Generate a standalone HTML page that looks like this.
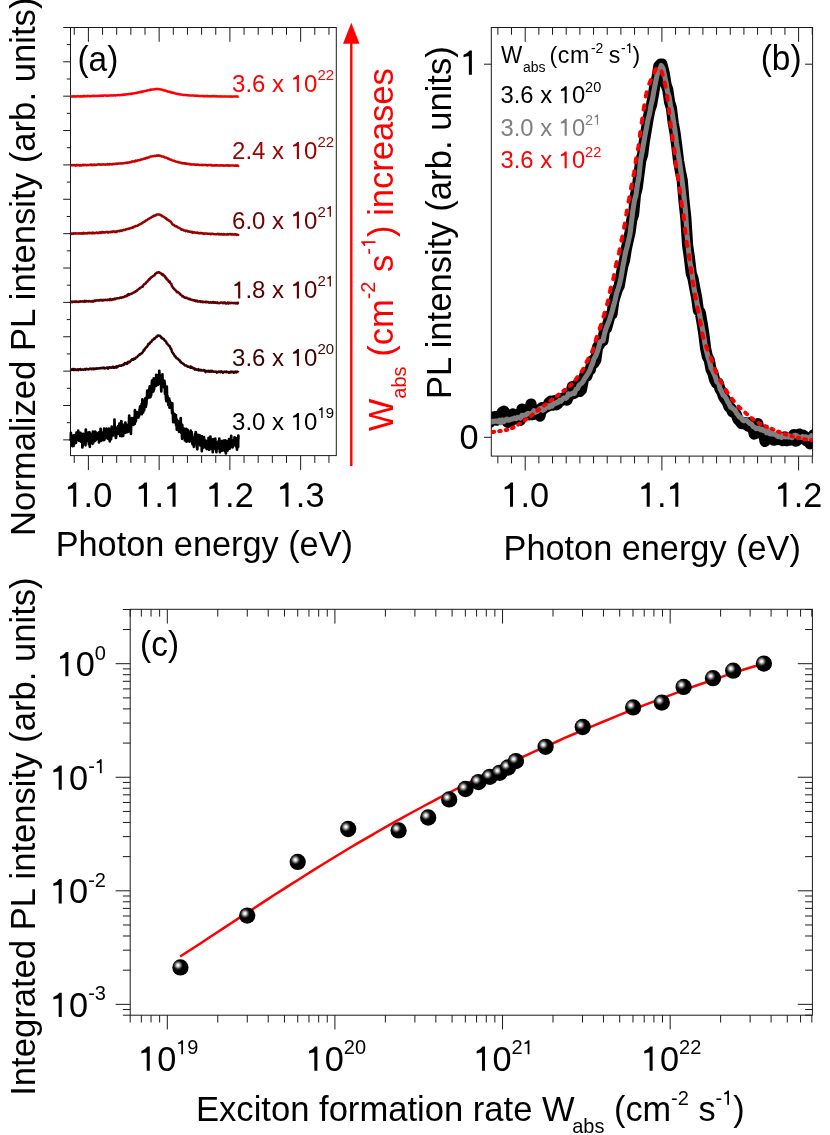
<!DOCTYPE html>
<html><head><meta charset="utf-8"><title>PL figure</title>
<style>
html,body{margin:0;padding:0;background:#fff;}
svg{display:block;will-change:transform;font-family:"Liberation Sans", sans-serif;}
text{font-family:"Liberation Sans", sans-serif;white-space:pre;}
</style></head><body>
<svg width="830" height="1135" viewBox="0 0 830 1135">
<rect x="0" y="0" width="830" height="1135" fill="#ffffff"/>
<rect x="70.5" y="27.5" width="265.80" height="428.10" fill="none" stroke="#1a1a1a" stroke-width="1.0"/>
<line x1="74.25" y1="27.50" x2="74.25" y2="34.80" stroke="#1a1a1a" stroke-width="1.0" />
<line x1="74.25" y1="455.60" x2="74.25" y2="462.90" stroke="#1a1a1a" stroke-width="1.0" />
<line x1="88.40" y1="27.50" x2="88.40" y2="41.80" stroke="#1a1a1a" stroke-width="1.0" />
<line x1="88.40" y1="455.60" x2="88.40" y2="470.10" stroke="#1a1a1a" stroke-width="1.0" />
<line x1="102.55" y1="27.50" x2="102.55" y2="34.80" stroke="#1a1a1a" stroke-width="1.0" />
<line x1="102.55" y1="455.60" x2="102.55" y2="462.90" stroke="#1a1a1a" stroke-width="1.0" />
<line x1="116.70" y1="27.50" x2="116.70" y2="34.80" stroke="#1a1a1a" stroke-width="1.0" />
<line x1="116.70" y1="455.60" x2="116.70" y2="462.90" stroke="#1a1a1a" stroke-width="1.0" />
<line x1="130.85" y1="27.50" x2="130.85" y2="34.80" stroke="#1a1a1a" stroke-width="1.0" />
<line x1="130.85" y1="455.60" x2="130.85" y2="462.90" stroke="#1a1a1a" stroke-width="1.0" />
<line x1="145.00" y1="27.50" x2="145.00" y2="34.80" stroke="#1a1a1a" stroke-width="1.0" />
<line x1="145.00" y1="455.60" x2="145.00" y2="462.90" stroke="#1a1a1a" stroke-width="1.0" />
<line x1="159.15" y1="27.50" x2="159.15" y2="41.80" stroke="#1a1a1a" stroke-width="1.0" />
<line x1="159.15" y1="455.60" x2="159.15" y2="470.10" stroke="#1a1a1a" stroke-width="1.0" />
<line x1="173.30" y1="27.50" x2="173.30" y2="34.80" stroke="#1a1a1a" stroke-width="1.0" />
<line x1="173.30" y1="455.60" x2="173.30" y2="462.90" stroke="#1a1a1a" stroke-width="1.0" />
<line x1="187.45" y1="27.50" x2="187.45" y2="34.80" stroke="#1a1a1a" stroke-width="1.0" />
<line x1="187.45" y1="455.60" x2="187.45" y2="462.90" stroke="#1a1a1a" stroke-width="1.0" />
<line x1="201.60" y1="27.50" x2="201.60" y2="34.80" stroke="#1a1a1a" stroke-width="1.0" />
<line x1="201.60" y1="455.60" x2="201.60" y2="462.90" stroke="#1a1a1a" stroke-width="1.0" />
<line x1="215.75" y1="27.50" x2="215.75" y2="34.80" stroke="#1a1a1a" stroke-width="1.0" />
<line x1="215.75" y1="455.60" x2="215.75" y2="462.90" stroke="#1a1a1a" stroke-width="1.0" />
<line x1="229.90" y1="27.50" x2="229.90" y2="41.80" stroke="#1a1a1a" stroke-width="1.0" />
<line x1="229.90" y1="455.60" x2="229.90" y2="470.10" stroke="#1a1a1a" stroke-width="1.0" />
<line x1="244.05" y1="27.50" x2="244.05" y2="34.80" stroke="#1a1a1a" stroke-width="1.0" />
<line x1="244.05" y1="455.60" x2="244.05" y2="462.90" stroke="#1a1a1a" stroke-width="1.0" />
<line x1="258.20" y1="27.50" x2="258.20" y2="34.80" stroke="#1a1a1a" stroke-width="1.0" />
<line x1="258.20" y1="455.60" x2="258.20" y2="462.90" stroke="#1a1a1a" stroke-width="1.0" />
<line x1="272.35" y1="27.50" x2="272.35" y2="34.80" stroke="#1a1a1a" stroke-width="1.0" />
<line x1="272.35" y1="455.60" x2="272.35" y2="462.90" stroke="#1a1a1a" stroke-width="1.0" />
<line x1="286.50" y1="27.50" x2="286.50" y2="34.80" stroke="#1a1a1a" stroke-width="1.0" />
<line x1="286.50" y1="455.60" x2="286.50" y2="462.90" stroke="#1a1a1a" stroke-width="1.0" />
<line x1="300.65" y1="27.50" x2="300.65" y2="41.80" stroke="#1a1a1a" stroke-width="1.0" />
<line x1="300.65" y1="455.60" x2="300.65" y2="470.10" stroke="#1a1a1a" stroke-width="1.0" />
<line x1="314.80" y1="27.50" x2="314.80" y2="34.80" stroke="#1a1a1a" stroke-width="1.0" />
<line x1="314.80" y1="455.60" x2="314.80" y2="462.90" stroke="#1a1a1a" stroke-width="1.0" />
<line x1="328.95" y1="27.50" x2="328.95" y2="34.80" stroke="#1a1a1a" stroke-width="1.0" />
<line x1="328.95" y1="455.60" x2="328.95" y2="462.90" stroke="#1a1a1a" stroke-width="1.0" />
<line x1="63.20" y1="61.80" x2="70.50" y2="61.80" stroke="#1a1a1a" stroke-width="1.0" />
<line x1="66.80" y1="44.62" x2="70.50" y2="44.62" stroke="#1a1a1a" stroke-width="1.0" />
<line x1="63.20" y1="96.17" x2="70.50" y2="96.17" stroke="#1a1a1a" stroke-width="1.0" />
<line x1="66.80" y1="78.99" x2="70.50" y2="78.99" stroke="#1a1a1a" stroke-width="1.0" />
<line x1="63.20" y1="130.54" x2="70.50" y2="130.54" stroke="#1a1a1a" stroke-width="1.0" />
<line x1="66.80" y1="113.36" x2="70.50" y2="113.36" stroke="#1a1a1a" stroke-width="1.0" />
<line x1="63.20" y1="164.91" x2="70.50" y2="164.91" stroke="#1a1a1a" stroke-width="1.0" />
<line x1="66.80" y1="147.73" x2="70.50" y2="147.73" stroke="#1a1a1a" stroke-width="1.0" />
<line x1="63.20" y1="199.28" x2="70.50" y2="199.28" stroke="#1a1a1a" stroke-width="1.0" />
<line x1="66.80" y1="182.10" x2="70.50" y2="182.10" stroke="#1a1a1a" stroke-width="1.0" />
<line x1="63.20" y1="233.65" x2="70.50" y2="233.65" stroke="#1a1a1a" stroke-width="1.0" />
<line x1="66.80" y1="216.47" x2="70.50" y2="216.47" stroke="#1a1a1a" stroke-width="1.0" />
<line x1="63.20" y1="268.02" x2="70.50" y2="268.02" stroke="#1a1a1a" stroke-width="1.0" />
<line x1="66.80" y1="250.84" x2="70.50" y2="250.84" stroke="#1a1a1a" stroke-width="1.0" />
<line x1="63.20" y1="302.39" x2="70.50" y2="302.39" stroke="#1a1a1a" stroke-width="1.0" />
<line x1="66.80" y1="285.21" x2="70.50" y2="285.21" stroke="#1a1a1a" stroke-width="1.0" />
<line x1="63.20" y1="336.76" x2="70.50" y2="336.76" stroke="#1a1a1a" stroke-width="1.0" />
<line x1="66.80" y1="319.58" x2="70.50" y2="319.58" stroke="#1a1a1a" stroke-width="1.0" />
<line x1="63.20" y1="371.13" x2="70.50" y2="371.13" stroke="#1a1a1a" stroke-width="1.0" />
<line x1="66.80" y1="353.95" x2="70.50" y2="353.95" stroke="#1a1a1a" stroke-width="1.0" />
<line x1="63.20" y1="405.50" x2="70.50" y2="405.50" stroke="#1a1a1a" stroke-width="1.0" />
<line x1="66.80" y1="388.32" x2="70.50" y2="388.32" stroke="#1a1a1a" stroke-width="1.0" />
<line x1="63.20" y1="439.87" x2="70.50" y2="439.87" stroke="#1a1a1a" stroke-width="1.0" />
<line x1="66.80" y1="422.69" x2="70.50" y2="422.69" stroke="#1a1a1a" stroke-width="1.0" />
<line x1="63.20" y1="27.50" x2="70.50" y2="27.50" stroke="#1a1a1a" stroke-width="1.0" />
<text xml:space="preserve" x="88.40" y="506.80" font-size="34.3" fill="#000" text-anchor="middle" transform="translate(88.40 506.80) scale(1 1.03) translate(-88.40 -506.80)" >  .0</text>
<text xml:space="preserve" x="159.15" y="506.80" font-size="34.3" fill="#000" text-anchor="middle" transform="translate(159.15 506.80) scale(1 1.03) translate(-159.15 -506.80)" >  .  </text>
<text xml:space="preserve" x="229.90" y="506.80" font-size="34.3" fill="#000" text-anchor="middle" transform="translate(229.90 506.80) scale(1 1.03) translate(-229.90 -506.80)" >  .2</text>
<text xml:space="preserve" x="300.65" y="506.80" font-size="34.3" fill="#000" text-anchor="middle" transform="translate(300.65 506.80) scale(1 1.03) translate(-300.65 -506.80)" >  .3</text>
<text xml:space="preserve" x="204.30" y="555.70" font-size="34.3" fill="#000" text-anchor="middle" transform="translate(204.30 555.70) scale(1 1.03) translate(-204.30 -555.70)" >Photon energy (eV)</text>
<text xml:space="preserve" x="34.70" y="266.80" font-size="34.7" fill="#000" text-anchor="middle" transform="rotate(-90 34.70 266.80) translate(34.70 266.80) scale(1 1.03) translate(-34.70 -266.80)" >Normalized PL intensity (arb. units)</text>
<text xml:space="preserve" x="77.50" y="71.30" font-size="33.4" fill="#000" text-anchor="start" transform="translate(77.50 71.30) scale(1 1.03) translate(-77.50 -71.30)" >(a)</text>
<path d="M70.7,96.6 L71.2,96.4 L71.7,96.4 L72.2,96.4 L72.8,96.3 L73.3,96.4 L73.8,96.4 L74.3,96.2 L74.8,96.5 L75.3,96.4 L75.8,96.3 L76.3,96.4 L76.8,96.4 L77.4,96.3 L77.9,96.3 L78.4,96.2 L78.9,96.4 L79.4,96.4 L79.9,96.4 L80.4,96.2 L80.9,96.5 L81.4,96.3 L81.9,96.3 L82.5,96.5 L83.0,96.3 L83.5,96.1 L84.0,96.2 L84.5,96.0 L85.0,96.4 L85.5,96.2 L86.0,96.1 L86.5,96.3 L87.1,96.0 L87.6,96.2 L88.1,96.0 L88.6,96.1 L89.1,96.0 L89.6,96.3 L90.1,96.3 L90.6,96.1 L91.1,96.2 L91.7,96.0 L92.2,96.1 L92.7,96.0 L93.2,95.8 L93.7,95.8 L94.2,96.0 L94.7,96.2 L95.2,96.0 L95.7,95.9 L96.2,96.1 L96.8,95.9 L97.3,95.9 L97.8,95.9 L98.3,95.9 L98.8,95.8 L99.3,95.7 L99.8,95.9 L100.3,95.8 L100.8,95.9 L101.4,95.7 L101.9,95.6 L102.4,95.7 L102.9,95.9 L103.4,95.7 L103.9,95.6 L104.4,95.6 L104.9,95.6 L105.4,95.6 L106.0,95.5 L106.5,95.8 L107.0,95.6 L107.5,95.6 L108.0,95.7 L108.5,95.7 L109.0,95.5 L109.5,95.6 L110.0,95.6 L110.5,95.5 L111.1,95.3 L111.6,95.5 L112.1,95.5 L112.6,95.5 L113.1,95.3 L113.6,95.4 L114.1,95.3 L114.6,95.3 L115.1,95.4 L115.7,95.4 L116.2,95.3 L116.7,95.3 L117.2,95.3 L117.7,95.2 L118.2,95.1 L118.7,95.1 L119.2,95.1 L119.7,95.3 L120.3,95.1 L120.8,94.9 L121.3,94.9 L121.8,94.8 L122.3,94.9 L122.8,94.8 L123.3,94.6 L123.8,94.8 L124.3,94.6 L124.9,94.7 L125.4,94.5 L125.9,94.6 L126.4,94.3 L126.9,94.3 L127.4,94.3 L127.9,94.3 L128.4,94.2 L128.9,94.0 L129.4,94.0 L130.0,94.0 L130.5,93.8 L131.0,93.7 L131.5,93.9 L132.0,93.6 L132.5,93.5 L133.0,93.5 L133.5,93.4 L134.0,93.3 L134.6,93.3 L135.1,93.2 L135.6,93.1 L136.1,93.0 L136.6,92.9 L137.1,92.7 L137.6,92.6 L138.1,92.5 L138.6,92.5 L139.2,92.3 L139.7,92.1 L140.2,92.2 L140.7,91.9 L141.2,91.7 L141.7,91.9 L142.2,91.6 L142.7,91.7 L143.2,91.5 L143.7,91.3 L144.3,91.2 L144.8,91.1 L145.3,91.0 L145.8,90.9 L146.3,90.8 L146.8,90.6 L147.3,90.6 L147.8,90.3 L148.3,90.3 L148.9,90.2 L149.4,90.1 L149.9,90.1 L150.4,89.6 L150.9,89.7 L151.4,89.7 L151.9,89.6 L152.4,89.4 L152.9,89.4 L153.5,89.5 L154.0,89.2 L154.5,89.3 L155.0,89.3 L155.5,89.1 L156.0,89.2 L156.5,89.0 L157.0,89.0 L157.5,89.0 L158.0,89.1 L158.6,89.1 L159.1,89.3 L159.6,89.2 L160.1,89.3 L160.6,89.5 L161.1,89.6 L161.6,89.5 L162.1,89.8 L162.6,89.9 L163.2,90.1 L163.7,90.3 L164.2,90.5 L164.7,90.5 L165.2,90.5 L165.7,90.6 L166.2,91.1 L166.7,91.1 L167.2,91.4 L167.8,91.4 L168.3,91.4 L168.8,91.8 L169.3,91.7 L169.8,91.7 L170.3,92.3 L170.8,92.0 L171.3,92.5 L171.8,92.7 L172.3,92.7 L172.9,92.6 L173.4,93.0 L173.9,92.9 L174.4,93.1 L174.9,93.3 L175.4,93.5 L175.9,93.6 L176.4,93.8 L176.9,93.7 L177.5,93.9 L178.0,93.9 L178.5,94.1 L179.0,94.3 L179.5,94.3 L180.0,94.5 L180.5,94.4 L181.0,94.5 L181.5,94.6 L182.1,94.7 L182.6,94.8 L183.1,94.8 L183.6,95.0 L184.1,94.9 L184.6,94.9 L185.1,94.9 L185.6,95.0 L186.1,95.2 L186.6,95.1 L187.2,95.2 L187.7,95.3 L188.2,95.3 L188.7,95.3 L189.2,95.5 L189.7,95.4 L190.2,95.5 L190.7,95.6 L191.2,95.6 L191.8,95.5 L192.3,95.5 L192.8,95.6 L193.3,95.6 L193.8,95.5 L194.3,95.8 L194.8,95.7 L195.3,95.8 L195.8,95.6 L196.4,95.9 L196.9,95.7 L197.4,95.8 L197.9,95.7 L198.4,95.9 L198.9,95.9 L199.4,95.9 L199.9,96.0 L200.4,96.0 L200.9,96.1 L201.5,95.9 L202.0,95.9 L202.5,96.0 L203.0,96.1 L203.5,96.2 L204.0,96.2 L204.5,95.9 L205.0,96.1 L205.5,96.3 L206.1,96.1 L206.6,96.1 L207.1,96.2 L207.6,96.1 L208.1,96.3 L208.6,96.2 L209.1,96.4 L209.6,96.3 L210.1,96.2 L210.7,96.3 L211.2,96.4 L211.7,96.2 L212.2,96.2 L212.7,96.1 L213.2,96.4 L213.7,96.2 L214.2,96.1 L214.7,96.1 L215.3,96.3 L215.8,96.4 L216.3,96.3 L216.8,96.4 L217.3,96.2 L217.8,96.2 L218.3,96.5 L218.8,96.4 L219.3,96.4 L219.8,96.5 L220.4,96.3 L220.9,96.4 L221.4,96.5 L221.9,96.6 L222.4,96.4 L222.9,96.6 L223.4,96.4 L223.9,96.5 L224.4,96.4 L225.0,96.3 L225.5,96.5 L226.0,96.6 L226.5,96.5 L227.0,96.5 L227.5,96.6 L228.0,96.4 L228.5,96.4 L229.0,96.4 L229.6,96.4 L230.1,96.7 L230.6,96.6 L231.1,96.4 L231.6,96.5 L232.1,96.8 L232.6,96.5 L233.1,96.5 L233.6,96.6 L234.1,96.6 L234.7,96.6 L235.2,96.5 L235.7,96.4 L236.2,96.6 L236.7,96.6 L237.2,96.4 L237.7,96.7 L238.2,96.6 L238.7,96.5" fill="none" stroke="#ff0000" stroke-width="2.5" stroke-linejoin="round" stroke-linecap="butt" />
<path d="M70.7,165.3 L71.2,165.3 L71.7,165.2 L72.2,165.1 L72.8,165.3 L73.3,165.1 L73.8,165.3 L74.3,165.1 L74.8,165.3 L75.3,165.3 L75.8,165.6 L76.3,165.1 L76.8,165.0 L77.4,165.2 L77.9,165.1 L78.4,165.2 L78.9,165.3 L79.4,165.4 L79.9,165.5 L80.4,165.1 L80.9,165.6 L81.4,165.5 L81.9,165.2 L82.5,164.8 L83.0,165.2 L83.5,165.2 L84.0,164.8 L84.5,165.1 L85.0,165.1 L85.5,165.0 L86.0,165.2 L86.5,165.2 L87.1,165.0 L87.6,165.1 L88.1,164.9 L88.6,164.9 L89.1,165.0 L89.6,165.1 L90.1,164.9 L90.6,164.6 L91.1,165.0 L91.7,164.6 L92.2,164.9 L92.7,165.2 L93.2,164.8 L93.7,164.6 L94.2,164.6 L94.7,165.0 L95.2,164.8 L95.7,164.8 L96.2,164.9 L96.8,164.7 L97.3,164.7 L97.8,164.5 L98.3,164.2 L98.8,164.4 L99.3,164.6 L99.8,164.6 L100.3,164.7 L100.8,164.6 L101.4,164.6 L101.9,164.7 L102.4,164.4 L102.9,164.5 L103.4,164.2 L103.9,164.6 L104.4,164.5 L104.9,164.5 L105.4,164.7 L106.0,164.6 L106.5,164.4 L107.0,164.5 L107.5,164.1 L108.0,164.4 L108.5,164.3 L109.0,164.0 L109.5,164.5 L110.0,164.1 L110.5,164.3 L111.1,164.1 L111.6,164.3 L112.1,164.4 L112.6,164.0 L113.1,163.9 L113.6,164.1 L114.1,164.2 L114.6,164.0 L115.1,163.9 L115.7,164.0 L116.2,163.5 L116.7,163.8 L117.2,163.6 L117.7,163.9 L118.2,163.7 L118.7,163.6 L119.2,163.6 L119.7,163.4 L120.3,163.6 L120.8,163.4 L121.3,163.4 L121.8,163.3 L122.3,163.5 L122.8,163.3 L123.3,163.3 L123.8,163.3 L124.3,163.0 L124.9,163.1 L125.4,163.0 L125.9,162.9 L126.4,162.7 L126.9,162.6 L127.4,162.8 L127.9,162.9 L128.4,162.4 L128.9,162.5 L129.4,162.3 L130.0,162.4 L130.5,162.2 L131.0,162.2 L131.5,161.5 L132.0,161.7 L132.5,161.6 L133.0,161.6 L133.5,161.4 L134.0,161.3 L134.6,161.4 L135.1,161.5 L135.6,160.6 L136.1,160.9 L136.6,160.9 L137.1,160.7 L137.6,160.6 L138.1,160.3 L138.6,160.2 L139.2,160.3 L139.7,160.3 L140.2,159.9 L140.7,159.6 L141.2,159.6 L141.7,159.5 L142.2,159.4 L142.7,159.2 L143.2,159.0 L143.7,158.9 L144.3,158.6 L144.8,158.7 L145.3,158.6 L145.8,158.1 L146.3,158.2 L146.8,157.8 L147.3,158.0 L147.8,157.7 L148.3,157.4 L148.9,157.4 L149.4,157.0 L149.9,156.8 L150.4,156.6 L150.9,156.5 L151.4,156.4 L151.9,156.4 L152.4,156.2 L152.9,156.3 L153.5,156.3 L154.0,156.0 L154.5,155.7 L155.0,156.0 L155.5,156.0 L156.0,155.7 L156.5,155.4 L157.0,155.7 L157.5,155.8 L158.0,155.3 L158.6,155.7 L159.1,155.6 L159.6,155.6 L160.1,155.9 L160.6,155.7 L161.1,156.1 L161.6,156.4 L162.1,156.4 L162.6,156.4 L163.2,156.5 L163.7,156.8 L164.2,156.9 L164.7,157.6 L165.2,157.5 L165.7,157.5 L166.2,157.7 L166.7,158.0 L167.2,158.2 L167.8,158.3 L168.3,158.9 L168.8,158.7 L169.3,158.9 L169.8,159.3 L170.3,159.6 L170.8,159.8 L171.3,159.8 L171.8,160.2 L172.3,160.4 L172.9,160.6 L173.4,160.7 L173.9,160.7 L174.4,160.9 L174.9,161.3 L175.4,161.2 L175.9,161.8 L176.4,161.7 L176.9,161.7 L177.5,161.9 L178.0,162.0 L178.5,162.2 L179.0,162.5 L179.5,162.3 L180.0,162.4 L180.5,162.8 L181.0,162.9 L181.5,163.0 L182.1,163.2 L182.6,163.1 L183.1,163.4 L183.6,163.2 L184.1,163.4 L184.6,163.3 L185.1,163.3 L185.6,163.7 L186.1,163.8 L186.6,163.4 L187.2,163.6 L187.7,163.9 L188.2,164.1 L188.7,163.9 L189.2,164.0 L189.7,163.8 L190.2,164.5 L190.7,164.2 L191.2,164.4 L191.8,164.4 L192.3,164.4 L192.8,164.4 L193.3,164.3 L193.8,164.5 L194.3,164.5 L194.8,164.7 L195.3,164.4 L195.8,164.5 L196.4,164.7 L196.9,164.8 L197.4,164.7 L197.9,164.6 L198.4,164.7 L198.9,164.7 L199.4,165.1 L199.9,164.9 L200.4,165.0 L200.9,164.9 L201.5,164.8 L202.0,165.1 L202.5,165.2 L203.0,165.0 L203.5,164.9 L204.0,165.1 L204.5,164.9 L205.0,165.1 L205.5,164.9 L206.1,164.9 L206.6,165.2 L207.1,165.2 L207.6,165.4 L208.1,165.1 L208.6,165.1 L209.1,165.0 L209.6,164.9 L210.1,164.9 L210.7,165.3 L211.2,165.0 L211.7,165.4 L212.2,165.5 L212.7,165.2 L213.2,165.5 L213.7,165.3 L214.2,165.5 L214.7,165.3 L215.3,165.5 L215.8,165.2 L216.3,165.4 L216.8,165.3 L217.3,165.3 L217.8,165.4 L218.3,165.4 L218.8,165.4 L219.3,165.5 L219.8,165.5 L220.4,165.2 L220.9,165.5 L221.4,165.5 L221.9,165.3 L222.4,165.5 L222.9,165.2 L223.4,165.7 L223.9,165.4 L224.4,165.4 L225.0,165.7 L225.5,165.4 L226.0,165.6 L226.5,165.3 L227.0,165.4 L227.5,165.3 L228.0,165.5 L228.5,165.7 L229.0,165.5 L229.6,165.7 L230.1,165.4 L230.6,165.4 L231.1,165.5 L231.6,165.6 L232.1,165.6 L232.6,165.5 L233.1,165.6 L233.6,165.5 L234.1,165.6 L234.7,165.8 L235.2,165.5 L235.7,165.6 L236.2,165.8 L236.7,165.6 L237.2,165.7 L237.7,165.5 L238.2,165.9 L238.7,165.2" fill="none" stroke="#cc0000" stroke-width="2.5" stroke-linejoin="round" stroke-linecap="butt" />
<path d="M70.7,233.4 L71.2,233.4 L71.7,234.0 L72.2,233.7 L72.8,233.6 L73.3,233.3 L73.8,233.7 L74.3,233.6 L74.8,233.4 L75.3,233.3 L75.8,233.3 L76.3,233.6 L76.8,233.6 L77.4,233.6 L77.9,233.5 L78.4,233.2 L78.9,233.5 L79.4,233.3 L79.9,233.5 L80.4,233.6 L80.9,233.3 L81.4,233.2 L81.9,233.7 L82.5,233.5 L83.0,233.3 L83.5,232.7 L84.0,233.4 L84.5,233.5 L85.0,233.6 L85.5,233.2 L86.0,233.2 L86.5,233.2 L87.1,233.5 L87.6,233.0 L88.1,233.2 L88.6,233.0 L89.1,233.2 L89.6,232.8 L90.1,233.2 L90.6,233.0 L91.1,233.0 L91.7,233.2 L92.2,233.3 L92.7,232.6 L93.2,233.2 L93.7,233.1 L94.2,232.9 L94.7,233.2 L95.2,232.9 L95.7,233.1 L96.2,232.7 L96.8,232.6 L97.3,233.0 L97.8,233.2 L98.3,232.8 L98.8,232.9 L99.3,232.5 L99.8,232.3 L100.3,232.6 L100.8,232.9 L101.4,232.1 L101.9,232.4 L102.4,232.1 L102.9,232.5 L103.4,232.6 L103.9,232.1 L104.4,232.3 L104.9,232.6 L105.4,232.3 L106.0,232.0 L106.5,232.0 L107.0,231.8 L107.5,232.4 L108.0,232.0 L108.5,232.4 L109.0,232.3 L109.5,231.9 L110.0,231.9 L110.5,232.2 L111.1,232.0 L111.6,232.0 L112.1,231.5 L112.6,232.0 L113.1,231.6 L113.6,231.3 L114.1,231.6 L114.6,231.7 L115.1,232.1 L115.7,231.5 L116.2,231.2 L116.7,231.9 L117.2,231.4 L117.7,231.2 L118.2,231.0 L118.7,230.9 L119.2,231.3 L119.7,230.8 L120.3,230.7 L120.8,230.6 L121.3,231.0 L121.8,230.4 L122.3,230.6 L122.8,230.4 L123.3,230.2 L123.8,229.8 L124.3,230.0 L124.9,230.1 L125.4,229.6 L125.9,229.3 L126.4,229.1 L126.9,229.3 L127.4,229.0 L127.9,228.9 L128.4,228.8 L128.9,228.4 L129.4,228.7 L130.0,228.4 L130.5,228.2 L131.0,228.1 L131.5,228.0 L132.0,227.7 L132.5,227.3 L133.0,227.6 L133.5,227.1 L134.0,226.8 L134.6,226.4 L135.1,226.5 L135.6,226.1 L136.1,226.0 L136.6,226.0 L137.1,225.7 L137.6,225.7 L138.1,225.3 L138.6,224.9 L139.2,224.6 L139.7,224.3 L140.2,224.3 L140.7,223.8 L141.2,223.5 L141.7,223.5 L142.2,223.1 L142.7,222.7 L143.2,222.1 L143.7,222.1 L144.3,221.8 L144.8,221.5 L145.3,221.0 L145.8,220.6 L146.3,220.5 L146.8,220.2 L147.3,219.8 L147.8,219.4 L148.3,218.9 L148.9,218.8 L149.4,218.5 L149.9,217.9 L150.4,217.9 L150.9,217.6 L151.4,217.3 L151.9,216.9 L152.4,216.7 L152.9,216.3 L153.5,216.5 L154.0,215.6 L154.5,215.8 L155.0,215.6 L155.5,215.6 L156.0,215.1 L156.5,214.7 L157.0,214.4 L157.5,214.4 L158.0,214.6 L158.6,214.5 L159.1,214.5 L159.6,214.5 L160.1,214.8 L160.6,215.3 L161.1,215.1 L161.6,215.6 L162.1,216.3 L162.6,216.3 L163.2,216.4 L163.7,217.0 L164.2,217.0 L164.7,217.4 L165.2,218.1 L165.7,218.5 L166.2,218.2 L166.7,219.1 L167.2,219.7 L167.8,219.5 L168.3,220.1 L168.8,220.7 L169.3,220.6 L169.8,221.2 L170.3,221.5 L170.8,221.5 L171.3,222.5 L171.8,223.2 L172.3,224.1 L172.9,224.7 L173.4,224.8 L173.9,225.0 L174.4,225.5 L174.9,225.8 L175.4,226.3 L175.9,226.1 L176.4,226.4 L176.9,226.5 L177.5,227.3 L178.0,227.4 L178.5,227.5 L179.0,227.8 L179.5,228.1 L180.0,228.3 L180.5,228.7 L181.0,229.0 L181.5,229.7 L182.1,229.7 L182.6,229.6 L183.1,229.9 L183.6,230.4 L184.1,230.4 L184.6,230.5 L185.1,230.8 L185.6,231.1 L186.1,230.6 L186.6,230.8 L187.2,230.7 L187.7,231.4 L188.2,231.3 L188.7,231.3 L189.2,231.4 L189.7,231.8 L190.2,231.7 L190.7,231.7 L191.2,232.2 L191.8,231.8 L192.3,231.9 L192.8,232.8 L193.3,232.2 L193.8,232.3 L194.3,232.3 L194.8,232.5 L195.3,232.8 L195.8,232.8 L196.4,232.9 L196.9,232.7 L197.4,232.5 L197.9,233.0 L198.4,233.3 L198.9,233.3 L199.4,233.0 L199.9,233.3 L200.4,233.1 L200.9,233.2 L201.5,233.0 L202.0,233.2 L202.5,233.4 L203.0,233.3 L203.5,233.6 L204.0,233.9 L204.5,233.8 L205.0,233.5 L205.5,233.4 L206.1,233.5 L206.6,233.4 L207.1,233.7 L207.6,233.8 L208.1,233.8 L208.6,233.8 L209.1,233.8 L209.6,233.8 L210.1,233.7 L210.7,234.2 L211.2,234.1 L211.7,233.7 L212.2,233.7 L212.7,233.8 L213.2,234.0 L213.7,234.2 L214.2,234.2 L214.7,234.2 L215.3,234.3 L215.8,234.3 L216.3,234.2 L216.8,234.2 L217.3,234.1 L217.8,233.7 L218.3,234.1 L218.8,234.5 L219.3,234.0 L219.8,234.0 L220.4,234.4 L220.9,234.2 L221.4,234.1 L221.9,234.6 L222.4,234.4 L222.9,234.4 L223.4,234.1 L223.9,234.4 L224.4,234.3 L225.0,234.4 L225.5,234.5 L226.0,234.5 L226.5,234.3 L227.0,234.4 L227.5,234.0 L228.0,234.4 L228.5,234.5 L229.0,234.2 L229.6,234.1 L230.1,234.3 L230.6,234.1 L231.1,234.4 L231.6,234.4 L232.1,234.1 L232.6,234.3 L233.1,234.6 L233.6,234.6 L234.1,234.6 L234.7,234.3 L235.2,234.3 L235.7,234.3 L236.2,234.5 L236.7,234.9 L237.2,234.7 L237.7,234.7 L238.2,234.7 L238.7,234.0" fill="none" stroke="#990000" stroke-width="2.5" stroke-linejoin="round" stroke-linecap="butt" />
<path d="M70.7,301.7 L71.2,301.6 L71.7,302.1 L72.2,302.2 L72.8,301.6 L73.3,301.7 L73.8,301.9 L74.3,301.6 L74.8,301.5 L75.3,301.5 L75.8,301.9 L76.3,301.4 L76.8,302.0 L77.4,301.7 L77.9,301.9 L78.4,302.1 L78.9,301.4 L79.4,301.4 L79.9,301.7 L80.4,301.3 L80.9,301.3 L81.4,301.5 L81.9,301.6 L82.5,301.2 L83.0,301.4 L83.5,301.6 L84.0,301.8 L84.5,300.9 L85.0,301.8 L85.5,301.6 L86.0,301.0 L86.5,300.9 L87.1,301.4 L87.6,301.2 L88.1,301.3 L88.6,301.5 L89.1,301.1 L89.6,301.2 L90.1,301.3 L90.6,301.4 L91.1,301.6 L91.7,301.5 L92.2,301.1 L92.7,300.9 L93.2,301.6 L93.7,301.1 L94.2,301.0 L94.7,300.5 L95.2,301.0 L95.7,300.5 L96.2,300.6 L96.8,300.3 L97.3,300.5 L97.8,300.6 L98.3,300.2 L98.8,300.3 L99.3,300.5 L99.8,300.1 L100.3,300.1 L100.8,300.2 L101.4,300.0 L101.9,300.5 L102.4,300.0 L102.9,300.5 L103.4,300.5 L103.9,299.9 L104.4,300.2 L104.9,300.0 L105.4,299.8 L106.0,300.0 L106.5,300.0 L107.0,300.2 L107.5,300.2 L108.0,299.6 L108.5,299.7 L109.0,299.9 L109.5,300.1 L110.0,299.0 L110.5,300.0 L111.1,299.5 L111.6,300.0 L112.1,299.4 L112.6,299.2 L113.1,299.4 L113.6,299.6 L114.1,299.2 L114.6,298.5 L115.1,299.3 L115.7,298.5 L116.2,298.6 L116.7,298.5 L117.2,298.2 L117.7,298.3 L118.2,298.2 L118.7,298.2 L119.2,298.2 L119.7,297.9 L120.3,297.5 L120.8,297.7 L121.3,297.9 L121.8,297.7 L122.3,297.3 L122.8,297.3 L123.3,297.2 L123.8,297.1 L124.3,297.0 L124.9,296.2 L125.4,296.0 L125.9,296.3 L126.4,296.1 L126.9,296.0 L127.4,294.7 L127.9,295.1 L128.4,294.1 L128.9,295.0 L129.4,294.5 L130.0,294.3 L130.5,294.0 L131.0,294.1 L131.5,293.4 L132.0,293.6 L132.5,293.2 L133.0,292.9 L133.5,292.7 L134.0,292.4 L134.6,291.7 L135.1,291.9 L135.6,291.5 L136.1,291.0 L136.6,290.9 L137.1,290.6 L137.6,289.7 L138.1,289.6 L138.6,289.2 L139.2,288.6 L139.7,288.5 L140.2,287.8 L140.7,287.5 L141.2,287.3 L141.7,287.0 L142.2,286.6 L142.7,286.8 L143.2,285.4 L143.7,284.9 L144.3,284.0 L144.8,284.0 L145.3,283.7 L145.8,283.3 L146.3,282.3 L146.8,281.8 L147.3,281.7 L147.8,280.7 L148.3,280.4 L148.9,279.4 L149.4,279.6 L149.9,278.9 L150.4,278.3 L150.9,277.5 L151.4,277.3 L151.9,277.0 L152.4,276.6 L152.9,276.2 L153.5,275.8 L154.0,275.5 L154.5,275.5 L155.0,274.1 L155.5,273.8 L156.0,273.3 L156.5,273.2 L157.0,272.5 L157.5,272.8 L158.0,272.5 L158.6,272.3 L159.1,272.2 L159.6,272.6 L160.1,272.9 L160.6,273.3 L161.1,273.5 L161.6,274.3 L162.1,274.1 L162.6,275.2 L163.2,274.4 L163.7,275.5 L164.2,275.8 L164.7,276.8 L165.2,276.6 L165.7,278.0 L166.2,277.7 L166.7,279.4 L167.2,279.5 L167.8,279.9 L168.3,280.6 L168.8,281.7 L169.3,281.8 L169.8,281.5 L170.3,283.1 L170.8,283.6 L171.3,283.8 L171.8,285.9 L172.3,286.5 L172.9,287.5 L173.4,288.2 L173.9,288.6 L174.4,289.5 L174.9,289.5 L175.4,290.3 L175.9,290.6 L176.4,291.2 L176.9,292.2 L177.5,292.0 L178.0,292.1 L178.5,292.7 L179.0,292.9 L179.5,293.5 L180.0,294.0 L180.5,294.5 L181.0,295.0 L181.5,295.3 L182.1,296.0 L182.6,296.5 L183.1,296.3 L183.6,296.7 L184.1,297.0 L184.6,297.6 L185.1,297.8 L185.6,297.5 L186.1,297.9 L186.6,297.7 L187.2,298.0 L187.7,298.5 L188.2,298.8 L188.7,299.1 L189.2,298.9 L189.7,298.7 L190.2,299.4 L190.7,299.4 L191.2,299.7 L191.8,299.8 L192.3,300.0 L192.8,300.2 L193.3,300.3 L193.8,300.1 L194.3,300.6 L194.8,300.3 L195.3,300.6 L195.8,301.2 L196.4,300.9 L196.9,300.6 L197.4,301.4 L197.9,301.3 L198.4,301.5 L198.9,301.3 L199.4,301.4 L199.9,301.3 L200.4,301.2 L200.9,301.9 L201.5,301.5 L202.0,301.5 L202.5,301.5 L203.0,302.3 L203.5,302.0 L204.0,301.7 L204.5,301.9 L205.0,302.1 L205.5,302.2 L206.1,301.6 L206.6,302.3 L207.1,302.1 L207.6,302.0 L208.1,302.1 L208.6,302.5 L209.1,302.8 L209.6,302.4 L210.1,302.5 L210.7,302.2 L211.2,302.6 L211.7,302.7 L212.2,302.1 L212.7,302.4 L213.2,302.8 L213.7,302.1 L214.2,302.5 L214.7,302.8 L215.3,302.2 L215.8,302.6 L216.3,302.7 L216.8,303.0 L217.3,302.4 L217.8,303.1 L218.3,302.9 L218.8,303.2 L219.3,303.2 L219.8,303.0 L220.4,303.0 L220.9,302.4 L221.4,302.5 L221.9,302.6 L222.4,302.8 L222.9,303.2 L223.4,302.5 L223.9,302.9 L224.4,302.6 L225.0,302.5 L225.5,303.4 L226.0,303.0 L226.5,303.4 L227.0,303.3 L227.5,302.7 L228.0,302.5 L228.5,303.6 L229.0,302.9 L229.6,302.7 L230.1,303.2 L230.6,303.1 L231.1,302.8 L231.6,302.9 L232.1,303.1 L232.6,303.0 L233.1,303.2 L233.6,302.9 L234.1,302.9 L234.7,303.2 L235.2,303.1 L235.7,303.4 L236.2,303.0 L236.7,303.0 L237.2,302.7 L237.7,303.5 L238.2,302.7 L238.7,303.1" fill="none" stroke="#660000" stroke-width="2.5" stroke-linejoin="round" stroke-linecap="butt" />
<path d="M70.7,369.4 L71.2,369.8 L71.7,369.9 L72.2,369.1 L72.8,369.6 L73.3,369.0 L73.8,370.1 L74.3,369.4 L74.8,369.1 L75.3,369.3 L75.8,370.0 L76.3,370.1 L76.8,370.0 L77.4,369.3 L77.9,369.5 L78.4,370.1 L78.9,369.2 L79.4,369.4 L79.9,369.2 L80.4,369.1 L80.9,369.9 L81.4,369.7 L81.9,369.6 L82.5,369.6 L83.0,369.7 L83.5,369.9 L84.0,369.4 L84.5,369.2 L85.0,369.0 L85.5,369.7 L86.0,369.1 L86.5,368.8 L87.1,369.1 L87.6,369.2 L88.1,369.5 L88.6,369.5 L89.1,368.9 L89.6,368.8 L90.1,369.0 L90.6,368.6 L91.1,369.0 L91.7,369.2 L92.2,369.0 L92.7,368.4 L93.2,368.5 L93.7,369.3 L94.2,368.5 L94.7,369.0 L95.2,369.0 L95.7,368.6 L96.2,368.3 L96.8,368.7 L97.3,368.3 L97.8,368.5 L98.3,368.6 L98.8,368.3 L99.3,368.4 L99.8,368.3 L100.3,368.0 L100.8,368.3 L101.4,368.1 L101.9,367.7 L102.4,368.2 L102.9,368.2 L103.4,368.0 L103.9,367.5 L104.4,368.4 L104.9,368.3 L105.4,368.3 L106.0,368.1 L106.5,367.6 L107.0,368.0 L107.5,367.6 L108.0,368.6 L108.5,367.6 L109.0,368.0 L109.5,367.2 L110.0,367.3 L110.5,367.4 L111.1,367.8 L111.6,367.7 L112.1,367.5 L112.6,366.7 L113.1,367.7 L113.6,366.9 L114.1,367.7 L114.6,367.7 L115.1,367.3 L115.7,367.2 L116.2,366.4 L116.7,367.6 L117.2,366.7 L117.7,366.8 L118.2,366.0 L118.7,366.1 L119.2,365.6 L119.7,365.7 L120.3,365.7 L120.8,365.6 L121.3,365.8 L121.8,365.3 L122.3,365.0 L122.8,364.7 L123.3,365.2 L123.8,364.0 L124.3,364.4 L124.9,363.1 L125.4,363.2 L125.9,363.4 L126.4,363.0 L126.9,363.9 L127.4,363.5 L127.9,361.9 L128.4,361.8 L128.9,361.9 L129.4,362.2 L130.0,361.7 L130.5,361.2 L131.0,360.3 L131.5,360.2 L132.0,359.3 L132.5,359.4 L133.0,359.8 L133.5,359.7 L134.0,358.6 L134.6,358.7 L135.1,358.8 L135.6,358.0 L136.1,357.4 L136.6,357.3 L137.1,356.9 L137.6,356.4 L138.1,355.8 L138.6,355.3 L139.2,355.0 L139.7,354.3 L140.2,354.5 L140.7,353.8 L141.2,353.4 L141.7,353.4 L142.2,352.8 L142.7,352.2 L143.2,351.2 L143.7,350.1 L144.3,350.4 L144.8,348.8 L145.3,348.3 L145.8,347.7 L146.3,347.5 L146.8,346.9 L147.3,346.4 L147.8,345.3 L148.3,344.0 L148.9,344.2 L149.4,343.9 L149.9,342.9 L150.4,342.3 L150.9,342.0 L151.4,341.8 L151.9,340.8 L152.4,340.0 L152.9,339.8 L153.5,339.5 L154.0,338.5 L154.5,338.9 L155.0,337.9 L155.5,337.8 L156.0,337.2 L156.5,336.5 L157.0,336.7 L157.5,335.7 L158.0,335.4 L158.6,335.6 L159.1,335.8 L159.6,335.7 L160.1,335.7 L160.6,336.7 L161.1,337.2 L161.6,338.2 L162.1,337.9 L162.6,338.5 L163.2,338.7 L163.7,338.9 L164.2,339.9 L164.7,340.7 L165.2,340.6 L165.7,341.3 L166.2,341.9 L166.7,343.5 L167.2,343.5 L167.8,344.6 L168.3,344.8 L168.8,345.8 L169.3,346.1 L169.8,346.2 L170.3,347.8 L170.8,348.9 L171.3,348.9 L171.8,351.2 L172.3,352.4 L172.9,352.9 L173.4,354.1 L173.9,354.2 L174.4,355.6 L174.9,356.4 L175.4,356.2 L175.9,357.2 L176.4,358.2 L176.9,358.3 L177.5,358.5 L178.0,358.8 L178.5,359.6 L179.0,359.9 L179.5,360.7 L180.0,360.5 L180.5,362.0 L181.0,362.1 L181.5,363.0 L182.1,363.0 L182.6,363.2 L183.1,363.8 L183.6,364.0 L184.1,364.5 L184.6,365.1 L185.1,365.5 L185.6,365.5 L186.1,365.5 L186.6,365.7 L187.2,366.3 L187.7,366.7 L188.2,366.4 L188.7,366.7 L189.2,366.7 L189.7,367.2 L190.2,367.7 L190.7,366.5 L191.2,367.8 L191.8,367.7 L192.3,367.3 L192.8,368.3 L193.3,368.3 L193.8,368.6 L194.3,368.2 L194.8,369.5 L195.3,369.0 L195.8,369.0 L196.4,369.7 L196.9,369.6 L197.4,369.8 L197.9,370.0 L198.4,369.0 L198.9,370.4 L199.4,369.8 L199.9,370.1 L200.4,370.4 L200.9,369.9 L201.5,370.3 L202.0,370.6 L202.5,370.4 L203.0,370.6 L203.5,370.0 L204.0,370.2 L204.5,370.3 L205.0,370.9 L205.5,372.1 L206.1,371.0 L206.6,370.9 L207.1,371.0 L207.6,371.4 L208.1,371.4 L208.6,370.8 L209.1,371.6 L209.6,371.3 L210.1,371.6 L210.7,370.7 L211.2,370.9 L211.7,371.6 L212.2,370.9 L212.7,371.6 L213.2,371.7 L213.7,371.6 L214.2,371.7 L214.7,371.7 L215.3,371.8 L215.8,371.6 L216.3,371.7 L216.8,372.7 L217.3,372.2 L217.8,372.0 L218.3,372.0 L218.8,371.6 L219.3,371.9 L219.8,371.8 L220.4,372.2 L220.9,371.6 L221.4,371.2 L221.9,371.8 L222.4,372.2 L222.9,372.8 L223.4,372.4 L223.9,371.7 L224.4,371.9 L225.0,371.7 L225.5,372.0 L226.0,371.7 L226.5,371.5 L227.0,372.2 L227.5,372.1 L228.0,372.0 L228.5,372.2 L229.0,372.8 L229.6,372.1 L230.1,371.9 L230.6,372.4 L231.1,371.5 L231.6,372.3 L232.1,371.8 L232.6,371.8 L233.1,372.1 L233.6,372.7 L234.1,371.8 L234.7,372.4 L235.2,372.2 L235.7,371.6 L236.2,372.4 L236.7,371.9 L237.2,371.6 L237.7,371.9 L238.2,371.9 L238.7,372.3" fill="none" stroke="#330000" stroke-width="2.5" stroke-linejoin="round" stroke-linecap="butt" />
<path d="M70.7,440.9 L70.9,432.9 L71.2,437.4 L71.4,440.8 L71.6,441.2 L71.8,437.4 L72.0,445.5 L72.3,446.0 L72.5,441.3 L72.7,435.9 L72.9,437.5 L73.1,438.0 L73.4,438.9 L73.6,445.9 L73.8,439.3 L74.0,444.5 L74.3,435.1 L74.5,438.1 L74.7,438.4 L74.9,436.6 L75.1,436.9 L75.4,437.2 L75.6,436.7 L75.8,440.1 L76.0,442.8 L76.2,436.7 L76.5,432.7 L76.7,434.3 L76.9,438.7 L77.1,435.7 L77.4,439.5 L77.6,436.5 L77.8,440.0 L78.0,437.3 L78.2,430.6 L78.5,435.0 L78.7,432.4 L78.9,440.6 L79.1,440.2 L79.3,437.9 L79.6,435.7 L79.8,438.5 L80.0,434.1 L80.2,439.7 L80.5,432.8 L80.7,434.2 L80.9,441.6 L81.1,435.5 L81.3,438.4 L81.6,433.9 L81.8,439.5 L82.0,436.4 L82.2,435.6 L82.4,447.4 L82.7,444.3 L82.9,437.0 L83.1,437.9 L83.3,433.8 L83.6,436.6 L83.8,442.0 L84.0,436.2 L84.2,440.1 L84.4,438.2 L84.7,439.2 L84.9,436.1 L85.1,442.4 L85.3,441.3 L85.5,445.3 L85.8,429.5 L86.0,440.8 L86.2,440.3 L86.4,441.3 L86.7,439.5 L86.9,438.7 L87.1,434.9 L87.3,436.5 L87.5,435.9 L87.8,439.2 L88.0,437.3 L88.2,432.6 L88.4,437.1 L88.6,435.9 L88.9,444.3 L89.1,435.1 L89.3,436.0 L89.5,432.3 L89.8,446.8 L90.0,436.8 L90.2,437.3 L90.4,436.5 L90.6,439.1 L90.9,436.0 L91.1,434.2 L91.3,436.6 L91.5,437.8 L91.7,437.5 L92.0,438.1 L92.2,436.5 L92.4,439.2 L92.6,443.8 L92.9,431.7 L93.1,442.9 L93.3,437.0 L93.5,441.2 L93.7,437.5 L94.0,440.0 L94.2,436.6 L94.4,439.5 L94.6,441.1 L94.8,435.3 L95.1,431.6 L95.3,435.1 L95.5,435.9 L95.7,440.1 L96.0,436.6 L96.2,434.6 L96.4,438.6 L96.6,432.9 L96.8,436.3 L97.1,434.9 L97.3,437.9 L97.5,437.8 L97.7,435.3 L97.9,434.6 L98.2,434.7 L98.4,439.6 L98.6,438.6 L98.8,436.0 L99.0,442.5 L99.3,432.1 L99.5,434.7 L99.7,435.6 L99.9,438.3 L100.2,432.8 L100.4,436.7 L100.6,428.8 L100.8,434.2 L101.0,440.9 L101.3,432.9 L101.5,437.4 L101.7,437.3 L101.9,436.3 L102.1,435.9 L102.4,434.4 L102.6,432.6 L102.8,433.6 L103.0,437.8 L103.3,440.1 L103.5,438.1 L103.7,433.8 L103.9,432.0 L104.1,428.6 L104.4,439.8 L104.6,434.7 L104.8,435.7 L105.0,436.3 L105.2,434.3 L105.5,435.7 L105.7,435.7 L105.9,437.0 L106.1,433.2 L106.4,430.8 L106.6,428.7 L106.8,436.4 L107.0,438.2 L107.2,435.4 L107.5,437.4 L107.7,430.6 L107.9,437.2 L108.1,433.9 L108.3,439.0 L108.6,435.4 L108.8,433.4 L109.0,428.5 L109.2,436.4 L109.5,432.6 L109.7,441.3 L109.9,438.1 L110.1,436.7 L110.3,435.5 L110.6,432.1 L110.8,431.3 L111.0,439.3 L111.2,431.5 L111.4,437.4 L111.7,426.7 L111.9,432.1 L112.1,432.6 L112.3,433.8 L112.6,433.2 L112.8,433.0 L113.0,435.4 L113.2,430.2 L113.4,431.8 L113.7,430.0 L113.9,432.9 L114.1,430.1 L114.3,435.2 L114.5,419.6 L114.8,434.9 L115.0,433.9 L115.2,428.8 L115.4,427.7 L115.7,434.9 L115.9,438.0 L116.1,436.9 L116.3,435.4 L116.5,434.6 L116.8,432.3 L117.0,427.9 L117.2,427.6 L117.4,433.6 L117.6,429.4 L117.9,428.1 L118.1,426.1 L118.3,431.7 L118.5,433.7 L118.8,428.2 L119.0,425.4 L119.2,432.6 L119.4,423.6 L119.6,424.4 L119.9,431.4 L120.1,436.0 L120.3,432.4 L120.5,431.4 L120.7,428.1 L121.0,435.9 L121.2,421.1 L121.4,421.3 L121.6,432.2 L121.9,436.2 L122.1,430.0 L122.3,427.8 L122.5,424.3 L122.7,426.5 L123.0,429.7 L123.2,435.9 L123.4,426.9 L123.6,425.5 L123.8,429.6 L124.1,427.3 L124.3,427.5 L124.5,429.0 L124.7,432.1 L125.0,426.6 L125.2,432.8 L125.4,422.5 L125.6,430.6 L125.8,425.5 L126.1,429.8 L126.3,425.6 L126.5,427.6 L126.7,424.8 L126.9,429.4 L127.2,432.2 L127.4,427.2 L127.6,427.3 L127.8,431.3 L128.1,428.2 L128.3,431.6 L128.5,425.0 L128.7,426.6 L128.9,425.0 L129.2,415.6 L129.4,424.2 L129.6,423.2 L129.8,422.1 L130.0,424.7 L130.3,426.1 L130.5,420.7 L130.7,419.9 L130.9,433.9 L131.2,423.8 L131.4,424.3 L131.6,424.9 L131.8,418.2 L132.0,424.3 L132.3,419.1 L132.5,423.9 L132.7,423.2 L132.9,418.9 L133.1,424.0 L133.4,421.7 L133.6,424.8 L133.8,423.8 L134.0,417.8 L134.3,418.0 L134.5,424.0 L134.7,423.9 L134.9,410.2 L135.1,421.4 L135.4,422.0 L135.6,416.8 L135.8,421.1 L136.0,419.4 L136.2,414.6 L136.5,413.9 L136.7,417.9 L136.9,412.1 L137.1,417.1 L137.3,417.2 L137.6,416.0 L137.8,416.8 L138.0,413.5 L138.2,414.1 L138.5,417.5 L138.7,413.8 L138.9,416.0 L139.1,415.8 L139.3,413.9 L139.6,409.4 L139.8,411.7 L140.0,407.8 L140.2,406.4 L140.4,411.8 L140.7,413.5 L140.9,413.7 L141.1,409.5 L141.3,407.0 L141.6,404.1 L141.8,414.1 L142.0,405.7 L142.2,404.7 L142.4,399.4 L142.7,407.1 L142.9,407.4 L143.1,412.4 L143.3,409.3 L143.5,410.0 L143.8,409.2 L144.0,408.4 L144.2,410.2 L144.4,404.6 L144.7,402.4 L144.9,400.6 L145.1,403.2 L145.3,398.6 L145.5,398.1 L145.8,406.9 L146.0,402.0 L146.2,405.0 L146.4,403.6 L146.6,398.9 L146.9,399.5 L147.1,393.3 L147.3,390.7 L147.5,396.1 L147.8,397.8 L148.0,397.1 L148.2,396.1 L148.4,393.5 L148.6,397.7 L148.9,392.4 L149.1,394.9 L149.3,389.7 L149.5,388.1 L149.7,386.3 L150.0,392.6 L150.2,396.4 L150.4,397.1 L150.6,391.6 L150.9,395.1 L151.1,395.5 L151.3,390.3 L151.5,392.1 L151.7,385.6 L152.0,380.7 L152.2,388.0 L152.4,385.6 L152.6,391.9 L152.8,385.2 L153.1,387.9 L153.3,388.9 L153.5,391.2 L153.7,378.4 L154.0,389.5 L154.2,387.7 L154.4,383.0 L154.6,381.6 L154.8,381.2 L155.1,381.6 L155.3,384.8 L155.5,378.6 L155.7,380.4 L155.9,386.0 L156.2,374.8 L156.4,381.5 L156.6,376.6 L156.8,385.1 L157.1,383.9 L157.3,381.5 L157.5,381.8 L157.7,375.5 L157.9,384.9 L158.2,378.4 L158.4,382.5 L158.6,377.0 L158.8,378.1 L159.0,380.8 L159.3,370.8 L159.5,379.0 L159.7,374.9 L159.9,383.8 L160.2,379.6 L160.4,379.0 L160.6,379.0 L160.8,381.0 L161.0,383.0 L161.3,391.4 L161.5,382.7 L161.7,384.3 L161.9,382.3 L162.1,378.8 L162.4,374.3 L162.6,380.9 L162.8,379.6 L163.0,381.5 L163.3,381.7 L163.5,382.8 L163.7,386.4 L163.9,387.3 L164.1,385.5 L164.4,380.9 L164.6,385.2 L164.8,382.9 L165.0,394.0 L165.2,389.1 L165.5,389.3 L165.7,389.6 L165.9,397.1 L166.1,399.5 L166.4,401.2 L166.6,395.8 L166.8,386.6 L167.0,395.0 L167.2,400.9 L167.5,396.1 L167.7,399.1 L167.9,398.1 L168.1,401.1 L168.3,404.9 L168.6,402.8 L168.8,399.1 L169.0,401.3 L169.2,398.7 L169.5,407.6 L169.7,400.7 L169.9,404.9 L170.1,405.1 L170.3,402.0 L170.6,407.6 L170.8,406.9 L171.0,406.2 L171.2,406.8 L171.4,406.8 L171.7,405.7 L171.9,409.0 L172.1,413.1 L172.3,403.3 L172.5,412.8 L172.8,411.9 L173.0,416.5 L173.2,422.2 L173.4,417.7 L173.7,415.2 L173.9,414.1 L174.1,416.4 L174.3,414.1 L174.5,413.9 L174.8,414.4 L175.0,418.4 L175.2,418.6 L175.4,420.1 L175.6,422.9 L175.9,415.1 L176.1,425.1 L176.3,421.3 L176.5,420.7 L176.8,429.6 L177.0,419.6 L177.2,424.0 L177.4,422.3 L177.6,424.7 L177.9,429.4 L178.1,423.6 L178.3,424.3 L178.5,421.5 L178.7,423.7 L179.0,431.8 L179.2,422.1 L179.4,423.6 L179.6,424.0 L179.9,425.4 L180.1,430.0 L180.3,425.8 L180.5,429.3 L180.7,418.0 L181.0,429.5 L181.2,432.9 L181.4,430.4 L181.6,424.3 L181.8,431.8 L182.1,438.8 L182.3,425.0 L182.5,429.3 L182.7,432.6 L183.0,428.4 L183.2,434.6 L183.4,435.7 L183.6,428.3 L183.8,433.8 L184.1,430.3 L184.3,432.3 L184.5,429.6 L184.7,432.4 L184.9,440.4 L185.2,430.8 L185.4,435.1 L185.6,430.4 L185.8,433.4 L186.1,428.9 L186.3,435.3 L186.5,441.7 L186.7,435.7 L186.9,432.8 L187.2,436.1 L187.4,436.7 L187.6,429.9 L187.8,435.9 L188.0,431.7 L188.3,435.1 L188.5,441.0 L188.7,439.4 L188.9,437.3 L189.2,435.2 L189.4,439.3 L189.6,441.6 L189.8,440.4 L190.0,438.7 L190.3,440.2 L190.5,439.2 L190.7,430.5 L190.9,436.4 L191.1,440.4 L191.4,437.7 L191.6,432.1 L191.8,435.5 L192.0,438.3 L192.3,443.0 L192.5,444.3 L192.7,439.6 L192.9,438.8 L193.1,444.4 L193.4,443.5 L193.6,438.9 L193.8,446.8 L194.0,445.2 L194.2,439.3 L194.5,437.2 L194.7,438.1 L194.9,435.8 L195.1,433.8 L195.4,436.3 L195.6,440.6 L195.8,432.1 L196.0,433.8 L196.2,436.6 L196.5,442.9 L196.7,438.7 L196.9,447.7 L197.1,441.5 L197.3,449.3 L197.6,442.0 L197.8,436.8 L198.0,440.5 L198.2,434.9 L198.5,440.8 L198.7,440.5 L198.9,442.0 L199.1,439.1 L199.3,441.2 L199.6,436.8 L199.8,435.4 L200.0,439.9 L200.2,445.4 L200.4,439.4 L200.7,436.6 L200.9,439.2 L201.1,440.6 L201.3,438.3 L201.6,437.0 L201.8,451.2 L202.0,436.4 L202.2,439.2 L202.4,440.3 L202.7,444.1 L202.9,441.4 L203.1,440.0 L203.3,447.6 L203.5,439.7 L203.8,442.2 L204.0,437.2 L204.2,440.1 L204.4,443.2 L204.7,442.5 L204.9,440.4 L205.1,442.3 L205.3,440.9 L205.5,445.5 L205.8,447.5 L206.0,445.1 L206.2,448.2 L206.4,445.9 L206.6,441.9 L206.9,449.1 L207.1,447.7 L207.3,440.7 L207.5,445.3 L207.7,443.5 L208.0,448.0 L208.2,447.4 L208.4,444.7 L208.6,437.8 L208.9,442.2 L209.1,449.8 L209.3,442.3 L209.5,440.6 L209.7,441.5 L210.0,448.4 L210.2,444.3 L210.4,436.5 L210.6,447.5 L210.8,443.0 L211.1,447.0 L211.3,448.9 L211.5,445.9 L211.7,440.7 L212.0,440.3 L212.2,447.7 L212.4,446.3 L212.6,447.8 L212.8,452.2 L213.1,442.6 L213.3,439.2 L213.5,439.4 L213.7,446.6 L213.9,440.2 L214.2,441.0 L214.4,446.2 L214.6,445.1 L214.8,446.4 L215.1,444.3 L215.3,438.7 L215.5,448.6 L215.7,449.6 L215.9,442.2 L216.2,445.2 L216.4,452.2 L216.6,449.1 L216.8,448.5 L217.0,447.7 L217.3,444.4 L217.5,442.1 L217.7,446.3 L217.9,445.2 L218.2,448.4 L218.4,442.1 L218.6,441.0 L218.8,446.8 L219.0,448.6 L219.3,438.5 L219.5,442.7 L219.7,449.2 L219.9,452.1 L220.1,447.1 L220.4,441.7 L220.6,448.0 L220.8,446.9 L221.0,447.8 L221.3,443.7 L221.5,441.0 L221.7,450.6 L221.9,447.1 L222.1,446.8 L222.4,448.3 L222.6,450.4 L222.8,443.1 L223.0,445.5 L223.2,443.5 L223.5,440.7 L223.7,447.4 L223.9,444.2 L224.1,447.6 L224.4,446.4 L224.6,444.8 L224.8,446.5 L225.0,451.3 L225.2,440.4 L225.5,445.2 L225.7,449.8 L225.9,453.5 L226.1,445.6 L226.3,443.1 L226.6,441.7 L226.8,441.2 L227.0,446.5 L227.2,442.8 L227.5,450.6 L227.7,444.4 L227.9,441.6 L228.1,447.0 L228.3,445.3 L228.6,444.3 L228.8,444.1 L229.0,439.1 L229.2,448.3 L229.4,439.5 L229.7,448.7 L229.9,446.6 L230.1,446.9 L230.3,444.3 L230.6,445.7 L230.8,442.1 L231.0,443.7 L231.2,435.8 L231.4,442.2 L231.7,444.5 L231.9,442.1 L232.1,441.2 L232.3,444.0 L232.5,447.3 L232.8,446.1 L233.0,442.4 L233.2,440.0 L233.4,441.2 L233.7,443.2 L233.9,440.7 L234.1,444.5 L234.3,441.7 L234.5,437.4 L234.8,438.4 L235.0,437.5 L235.2,443.6 L235.4,441.5 L235.6,445.8 L235.9,438.8 L236.1,443.5 L236.3,446.7 L236.5,443.6 L236.8,440.9 L237.0,449.6 L237.2,446.7 L237.4,438.0 L237.6,441.1 L237.9,441.5 L238.1,447.1 L238.3,435.5 L238.5,437.5 L238.7,438.7" fill="none" stroke="#000" stroke-width="2.7" stroke-linejoin="round" stroke-linecap="butt" />
<text xml:space="preserve" x="232.10" y="91.90" font-size="24" fill="#ff0000" text-anchor="start" transform="translate(232.10 91.90) scale(1 1.03) translate(-232.10 -91.90)" >3.6 x   0<tspan font-size="15" dy="-11.60">22</tspan></text>
<text xml:space="preserve" x="232.10" y="158.90" font-size="24" fill="#990000" text-anchor="start" transform="translate(232.10 158.90) scale(1 1.03) translate(-232.10 -158.90)" >2.4 x   0<tspan font-size="15" dy="-11.60">22</tspan></text>
<text xml:space="preserve" x="232.10" y="228.60" font-size="24" fill="#730000" text-anchor="start" transform="translate(232.10 228.60) scale(1 1.03) translate(-232.10 -228.60)" >6.0 x   0<tspan font-size="15" dy="-11.60">2  </tspan></text>
<text xml:space="preserve" x="232.10" y="298.40" font-size="24" fill="#5a0000" text-anchor="start" transform="translate(232.10 298.40) scale(1 1.03) translate(-232.10 -298.40)" >  .8 x   0<tspan font-size="15" dy="-11.60">2  </tspan></text>
<text xml:space="preserve" x="232.10" y="366.10" font-size="24" fill="#400000" text-anchor="start" transform="translate(232.10 366.10) scale(1 1.03) translate(-232.10 -366.10)" >3.6 x   0<tspan font-size="15" dy="-11.60">20</tspan></text>
<text xml:space="preserve" x="232.10" y="429.90" font-size="24" fill="#000000" text-anchor="start" transform="translate(232.10 429.90) scale(1 1.03) translate(-232.10 -429.90)" >3.0 x   0<tspan font-size="15" dy="-11.60">  9</tspan></text>
<line x1="351.30" y1="466.00" x2="351.30" y2="42.00" stroke="#ff0000" stroke-width="2.4" />
<polygon points="351.3,22.8 343.0,43.7 359.5,43.7" fill="#ff0000"/>
<text xml:space="preserve" x="393.00" y="431.20" font-size="34.5" fill="#ff0000" text-anchor="start" transform="rotate(-90 393.00 431.20) translate(393.00 431.20) scale(1 1.03) translate(-393.00 -431.20)" >W<tspan font-size="20" dy="12.30">abs</tspan><tspan dy="-12.30"> (cm</tspan><tspan font-size="20" dy="-17.00">-2</tspan><tspan dy="17.00"> s</tspan><tspan font-size="20" dy="-17.00">-  </tspan><tspan dy="17.00">) increases</tspan></text>
<rect x="491.3" y="27.5" width="321.30" height="428.60" fill="none" stroke="#1a1a1a" stroke-width="1.0"/>
<line x1="497.86" y1="27.50" x2="497.86" y2="34.80" stroke="#1a1a1a" stroke-width="1.0" />
<line x1="497.86" y1="456.10" x2="497.86" y2="463.40" stroke="#1a1a1a" stroke-width="1.0" />
<line x1="511.53" y1="27.50" x2="511.53" y2="34.80" stroke="#1a1a1a" stroke-width="1.0" />
<line x1="511.53" y1="456.10" x2="511.53" y2="463.40" stroke="#1a1a1a" stroke-width="1.0" />
<line x1="525.20" y1="27.50" x2="525.20" y2="41.80" stroke="#1a1a1a" stroke-width="1.0" />
<line x1="525.20" y1="456.10" x2="525.20" y2="470.40" stroke="#1a1a1a" stroke-width="1.0" />
<line x1="538.87" y1="27.50" x2="538.87" y2="34.80" stroke="#1a1a1a" stroke-width="1.0" />
<line x1="538.87" y1="456.10" x2="538.87" y2="463.40" stroke="#1a1a1a" stroke-width="1.0" />
<line x1="552.54" y1="27.50" x2="552.54" y2="34.80" stroke="#1a1a1a" stroke-width="1.0" />
<line x1="552.54" y1="456.10" x2="552.54" y2="463.40" stroke="#1a1a1a" stroke-width="1.0" />
<line x1="566.21" y1="27.50" x2="566.21" y2="34.80" stroke="#1a1a1a" stroke-width="1.0" />
<line x1="566.21" y1="456.10" x2="566.21" y2="463.40" stroke="#1a1a1a" stroke-width="1.0" />
<line x1="579.88" y1="27.50" x2="579.88" y2="34.80" stroke="#1a1a1a" stroke-width="1.0" />
<line x1="579.88" y1="456.10" x2="579.88" y2="463.40" stroke="#1a1a1a" stroke-width="1.0" />
<line x1="593.55" y1="27.50" x2="593.55" y2="34.80" stroke="#1a1a1a" stroke-width="1.0" />
<line x1="593.55" y1="456.10" x2="593.55" y2="463.40" stroke="#1a1a1a" stroke-width="1.0" />
<line x1="607.22" y1="27.50" x2="607.22" y2="34.80" stroke="#1a1a1a" stroke-width="1.0" />
<line x1="607.22" y1="456.10" x2="607.22" y2="463.40" stroke="#1a1a1a" stroke-width="1.0" />
<line x1="620.89" y1="27.50" x2="620.89" y2="34.80" stroke="#1a1a1a" stroke-width="1.0" />
<line x1="620.89" y1="456.10" x2="620.89" y2="463.40" stroke="#1a1a1a" stroke-width="1.0" />
<line x1="634.56" y1="27.50" x2="634.56" y2="34.80" stroke="#1a1a1a" stroke-width="1.0" />
<line x1="634.56" y1="456.10" x2="634.56" y2="463.40" stroke="#1a1a1a" stroke-width="1.0" />
<line x1="648.23" y1="27.50" x2="648.23" y2="34.80" stroke="#1a1a1a" stroke-width="1.0" />
<line x1="648.23" y1="456.10" x2="648.23" y2="463.40" stroke="#1a1a1a" stroke-width="1.0" />
<line x1="661.90" y1="27.50" x2="661.90" y2="41.80" stroke="#1a1a1a" stroke-width="1.0" />
<line x1="661.90" y1="456.10" x2="661.90" y2="470.40" stroke="#1a1a1a" stroke-width="1.0" />
<line x1="675.57" y1="27.50" x2="675.57" y2="34.80" stroke="#1a1a1a" stroke-width="1.0" />
<line x1="675.57" y1="456.10" x2="675.57" y2="463.40" stroke="#1a1a1a" stroke-width="1.0" />
<line x1="689.24" y1="27.50" x2="689.24" y2="34.80" stroke="#1a1a1a" stroke-width="1.0" />
<line x1="689.24" y1="456.10" x2="689.24" y2="463.40" stroke="#1a1a1a" stroke-width="1.0" />
<line x1="702.91" y1="27.50" x2="702.91" y2="34.80" stroke="#1a1a1a" stroke-width="1.0" />
<line x1="702.91" y1="456.10" x2="702.91" y2="463.40" stroke="#1a1a1a" stroke-width="1.0" />
<line x1="716.58" y1="27.50" x2="716.58" y2="34.80" stroke="#1a1a1a" stroke-width="1.0" />
<line x1="716.58" y1="456.10" x2="716.58" y2="463.40" stroke="#1a1a1a" stroke-width="1.0" />
<line x1="730.25" y1="27.50" x2="730.25" y2="34.80" stroke="#1a1a1a" stroke-width="1.0" />
<line x1="730.25" y1="456.10" x2="730.25" y2="463.40" stroke="#1a1a1a" stroke-width="1.0" />
<line x1="743.92" y1="27.50" x2="743.92" y2="34.80" stroke="#1a1a1a" stroke-width="1.0" />
<line x1="743.92" y1="456.10" x2="743.92" y2="463.40" stroke="#1a1a1a" stroke-width="1.0" />
<line x1="757.59" y1="27.50" x2="757.59" y2="34.80" stroke="#1a1a1a" stroke-width="1.0" />
<line x1="757.59" y1="456.10" x2="757.59" y2="463.40" stroke="#1a1a1a" stroke-width="1.0" />
<line x1="771.26" y1="27.50" x2="771.26" y2="34.80" stroke="#1a1a1a" stroke-width="1.0" />
<line x1="771.26" y1="456.10" x2="771.26" y2="463.40" stroke="#1a1a1a" stroke-width="1.0" />
<line x1="784.93" y1="27.50" x2="784.93" y2="34.80" stroke="#1a1a1a" stroke-width="1.0" />
<line x1="784.93" y1="456.10" x2="784.93" y2="463.40" stroke="#1a1a1a" stroke-width="1.0" />
<line x1="798.60" y1="27.50" x2="798.60" y2="41.80" stroke="#1a1a1a" stroke-width="1.0" />
<line x1="798.60" y1="456.10" x2="798.60" y2="470.40" stroke="#1a1a1a" stroke-width="1.0" />
<line x1="812.27" y1="27.50" x2="812.27" y2="34.80" stroke="#1a1a1a" stroke-width="1.0" />
<line x1="812.27" y1="456.10" x2="812.27" y2="463.40" stroke="#1a1a1a" stroke-width="1.0" />
<line x1="484.00" y1="437.30" x2="491.30" y2="437.30" stroke="#1a1a1a" stroke-width="1.0" />
<line x1="805.10" y1="437.30" x2="812.60" y2="437.30" stroke="#1a1a1a" stroke-width="1.0" />
<line x1="484.00" y1="64.20" x2="491.30" y2="64.20" stroke="#1a1a1a" stroke-width="1.0" />
<line x1="805.10" y1="64.20" x2="812.60" y2="64.20" stroke="#1a1a1a" stroke-width="1.0" />
<text xml:space="preserve" x="525.20" y="506.80" font-size="34.3" fill="#000" text-anchor="middle" transform="translate(525.20 506.80) scale(1 1.03) translate(-525.20 -506.80)" >  .0</text>
<text xml:space="preserve" x="661.90" y="506.80" font-size="34.3" fill="#000" text-anchor="middle" transform="translate(661.90 506.80) scale(1 1.03) translate(-661.90 -506.80)" >  .  </text>
<text xml:space="preserve" x="798.60" y="506.80" font-size="34.3" fill="#000" text-anchor="middle" transform="translate(798.60 506.80) scale(1 1.03) translate(-798.60 -506.80)" >  .2</text>
<text xml:space="preserve" x="652.20" y="560.10" font-size="34.3" fill="#000" text-anchor="middle" transform="translate(652.20 560.10) scale(1 1.03) translate(-652.20 -560.10)" >Photon energy (eV)</text>
<text xml:space="preserve" x="451.40" y="222.60" font-size="34.65" fill="#000" text-anchor="middle" transform="rotate(-90 451.40 222.60) translate(451.40 222.60) scale(1 1.03) translate(-451.40 -222.60)" >PL intensity (arb. units)</text>
<text xml:space="preserve" x="478.70" y="448.70" font-size="34.3" fill="#000" text-anchor="end" transform="translate(478.70 448.70) scale(1 1.03) translate(-478.70 -448.70)" >0</text>
<text xml:space="preserve" x="479.30" y="74.70" font-size="34.3" fill="#000" text-anchor="end" transform="translate(479.30 74.70) scale(1 1.03) translate(-479.30 -74.70)" >  </text>
<text xml:space="preserve" x="760.70" y="70.40" font-size="33.4" fill="#000" text-anchor="start" transform="translate(760.70 70.40) scale(1 1.03) translate(-760.70 -70.40)" >(b)</text>
<clipPath id="cb"><rect x="491.3" y="27.5" width="321.30" height="431.60"/></clipPath>
<g clip-path="url(#cb)">
<path d="M486.0,414.9 L487.8,420.9 L489.6,422.8 L491.4,417.3 L493.2,417.5 L495.0,416.5 L496.8,420.2 L498.6,417.0 L500.4,416.5 L502.2,412.2 L504.0,411.2 L505.8,420.3 L507.6,422.4 L509.4,419.5 L511.2,421.2 L513.0,413.9 L514.8,415.3 L516.6,416.4 L518.4,414.1 L520.2,420.3 L522.0,409.1 L523.8,411.3 L525.6,411.7 L527.4,409.8 L529.2,414.8 L531.0,404.0 L532.8,414.6 L534.6,413.1 L536.4,410.3 L538.2,413.5 L540.0,416.2 L541.8,407.7 L543.6,409.0 L545.4,407.1 L547.2,406.9 L549.0,402.6 L550.8,401.2 L552.6,405.2 L554.4,400.5 L556.2,404.8 L558.0,403.6 L559.8,398.5 L561.6,400.5 L563.4,398.6 L565.2,396.9 L567.0,400.1 L568.8,395.3 L570.6,394.8 L572.4,386.5 L574.2,393.3 L576.0,385.3 L577.8,387.1 L579.6,391.5 L581.4,389.9 L583.2,380.4 L585.0,374.4 L586.8,376.4 L588.6,370.8 L590.4,369.6 L592.2,360.6 L594.0,363.1 L595.8,359.9 L597.6,347.0 L599.4,344.7 L601.2,341.0 L603.0,340.7 L604.8,327.8 L606.6,328.2 L608.4,321.6 L610.2,315.0 L612.0,314.2 L613.8,301.1 L615.6,295.0 L617.4,289.4 L619.2,286.0 L621.0,275.8 L622.8,265.9 L624.6,260.0 L626.4,248.5 L628.2,240.3 L630.0,232.7 L631.8,219.8 L633.6,214.2 L635.4,194.9 L637.2,187.9 L639.0,174.1 L640.8,160.3 L642.6,154.7 L644.4,140.9 L646.2,130.5 L648.0,119.4 L649.8,110.2 L651.6,104.8 L653.4,94.5 L655.2,83.8 L657.0,77.8 L658.8,66.2 L660.6,64.1 L661.9,64.0 L664.2,73.2 L666.0,84.4 L667.8,89.8 L669.6,102.2 L671.4,108.0 L673.2,122.6 L675.0,132.8 L676.8,146.3 L678.6,161.2 L680.4,171.3 L682.2,180.1 L684.0,201.2 L685.8,217.6 L687.6,245.3 L689.4,257.6 L691.2,273.2 L693.0,278.5 L694.8,288.3 L696.6,297.4 L698.4,310.6 L700.2,312.2 L702.0,322.4 L703.8,333.9 L705.6,348.4 L707.4,356.7 L709.2,359.8 L711.0,369.3 L712.8,373.0 L714.6,379.7 L716.4,383.2 L718.2,383.1 L720.0,389.2 L721.8,391.9 L723.6,397.0 L725.4,399.5 L727.2,402.1 L729.0,406.8 L730.8,407.8 L732.6,412.2 L734.4,412.7 L736.2,414.4 L738.0,419.3 L739.8,421.2 L741.6,423.6 L743.4,423.5 L745.2,422.7 L747.0,425.2 L748.8,426.5 L750.6,422.4 L752.4,425.4 L754.2,434.1 L756.0,430.7 L757.8,423.7 L759.6,432.3 L761.4,433.9 L763.2,430.6 L765.0,441.4 L766.8,438.7 L768.6,438.4 L770.4,436.1 L772.2,438.6 L774.0,440.2 L775.8,439.6 L777.6,436.6 L779.4,439.6 L781.2,439.8 L783.0,440.6 L784.8,436.9 L786.6,440.6 L788.4,439.6 L790.2,440.1 L792.0,439.7 L793.8,434.6 L795.6,441.1 L797.4,440.5 L799.2,434.0 L801.0,437.4 L802.8,435.1 L804.6,436.4 L806.4,440.8 L808.2,439.5 L810.0,443.9 L811.8,438.4 L813.6,434.8 L815.4,438.6 L817.2,431.0" fill="none" stroke="#000" stroke-width="11.2" stroke-linejoin="round" stroke-linecap="round"/>
<path d="M486.0,424.3 L487.5,422.7 L489.0,422.8 L490.5,422.4 L492.0,421.2 L493.5,421.8 L495.0,421.0 L496.5,421.1 L498.0,421.8 L499.5,420.1 L501.0,422.8 L502.5,419.9 L504.0,421.6 L505.5,419.9 L507.0,419.0 L508.5,420.3 L510.0,419.8 L511.5,419.1 L513.0,418.9 L514.5,418.0 L516.0,418.7 L517.5,417.4 L519.0,417.5 L520.5,418.1 L522.0,415.3 L523.5,415.6 L525.0,415.0 L526.5,414.4 L528.0,413.3 L529.5,413.8 L531.0,413.6 L532.5,412.8 L534.0,410.6 L535.5,412.3 L537.0,411.6 L538.5,410.3 L540.0,408.6 L541.5,408.1 L543.0,410.3 L544.5,409.4 L546.0,407.5 L547.5,405.6 L549.0,407.1 L550.5,405.4 L552.0,406.2 L553.5,403.4 L555.0,403.7 L556.5,402.4 L558.0,402.6 L559.5,400.5 L561.0,401.3 L562.5,399.2 L564.0,397.9 L565.5,398.4 L567.0,397.2 L568.5,393.8 L570.0,394.8 L571.5,393.9 L573.0,392.8 L574.5,393.4 L576.0,389.4 L577.5,388.7 L579.0,385.4 L580.5,384.0 L582.0,382.9 L583.5,380.7 L585.0,377.8 L586.5,376.0 L588.0,373.5 L589.5,371.1 L591.0,366.9 L592.5,363.9 L594.0,358.8 L595.5,356.2 L597.0,352.7 L598.5,348.2 L600.0,342.1 L601.5,341.3 L603.0,340.9 L604.5,333.8 L606.0,328.6 L607.5,324.8 L609.0,321.3 L610.5,316.4 L612.0,311.8 L613.5,305.8 L615.0,300.6 L616.5,293.5 L618.0,289.1 L619.5,284.3 L621.0,277.5 L622.5,268.6 L624.0,260.7 L625.5,252.5 L627.0,247.1 L628.5,240.8 L630.0,233.9 L631.5,221.8 L633.0,209.7 L634.5,200.4 L636.0,195.0 L637.5,184.1 L639.0,176.1 L640.5,160.7 L642.0,152.8 L643.5,143.9 L645.0,135.5 L646.5,127.7 L648.0,119.6 L649.5,113.9 L651.0,105.1 L652.5,99.2 L654.0,90.2 L655.5,82.8 L657.0,75.3 L658.5,69.8 L660.0,69.7 L661.2,65.4 L663.0,68.4 L664.5,75.3 L666.0,82.5 L667.5,91.5 L669.0,96.2 L670.5,105.5 L672.0,111.7 L673.5,121.6 L675.0,130.7 L676.5,143.1 L678.0,152.4 L679.5,162.0 L681.0,172.4 L682.5,184.2 L684.0,196.8 L685.5,211.6 L687.0,234.2 L688.5,249.5 L690.0,262.7 L691.5,269.5 L693.0,280.5 L694.5,291.2 L696.0,296.7 L697.5,305.5 L699.0,311.0 L700.5,319.0 L702.0,326.0 L703.5,334.4 L705.0,344.0 L706.5,351.2 L708.0,356.9 L709.5,361.5 L711.0,368.0 L712.5,370.4 L714.0,373.6 L715.5,377.4 L717.0,382.2 L718.5,382.7 L720.0,388.5 L721.5,391.7 L723.0,395.0 L724.5,395.9 L726.0,398.1 L727.5,401.4 L729.0,403.6 L730.5,407.0 L732.0,407.8 L733.5,409.2 L735.0,410.2 L736.5,413.0 L738.0,414.8 L739.5,417.2 L741.0,417.5 L742.5,419.9 L744.0,420.9 L745.5,420.0 L747.0,420.7 L748.5,422.2 L750.0,423.6 L751.5,424.0 L753.0,426.4 L754.5,427.2 L756.0,428.6 L757.5,428.4 L759.0,428.3 L760.5,429.8 L762.0,429.1 L763.5,430.7 L765.0,430.3 L766.5,432.8 L768.0,429.5 L769.5,433.5 L771.0,434.0 L772.5,433.5 L774.0,434.3 L775.5,434.6 L777.0,436.0 L778.5,436.7 L780.0,435.4 L781.5,437.4 L783.0,435.4 L784.5,436.7 L786.0,436.9 L787.5,435.3 L789.0,437.0 L790.5,436.1 L792.0,437.6 L793.5,436.0 L795.0,435.2 L796.5,435.7 L798.0,437.1 L799.5,437.4 L801.0,437.5 L802.5,436.5 L804.0,438.1 L805.5,436.8 L807.0,437.2 L808.5,438.5 L810.0,437.4 L811.5,435.8 L813.0,438.5 L814.5,437.8 L816.0,437.5 L817.5,439.2" fill="none" stroke="#808080" stroke-width="5.1" stroke-linejoin="round" stroke-linecap="round"/>
<path d="M486.0,432.9 L486.2,432.8 L486.4,432.8 L486.7,432.8 L486.9,432.8 L487.1,432.7 L487.3,432.7 L487.6,432.7 L487.6,432.7 M492.6,432.0 L492.8,431.9 L493.0,431.9 L493.3,431.9 L493.5,431.9 L493.7,431.8 L493.9,431.8 L494.2,431.8 L494.2,431.8 M499.2,431.2 L499.4,431.1 L499.6,431.1 L499.8,431.1 L500.0,431.0 L500.3,431.0 L500.5,431.0 L500.7,430.9 L500.8,430.9 M505.7,430.1 L505.9,430.1 L506.1,430.0 L506.4,430.0 L506.6,429.9 L506.8,429.9 L507.0,429.8 L507.3,429.8 L507.3,429.8 M512.0,428.2 L512.3,428.1 L512.5,428.0 L512.7,427.8 L512.9,427.7 L513.1,427.6 L513.4,427.5 L513.6,427.4 L513.6,427.3 M518.2,424.6 L518.5,424.4 L518.8,424.2 L519.0,424.0 L519.3,423.8 L519.6,423.7 L519.9,423.5 L519.9,423.4 M524.7,420.3 L525.0,420.1 L525.2,419.9 L525.5,419.7 L525.8,419.5 L526.1,419.4 L526.4,419.2 L526.4,419.2 M531.0,415.8 L531.2,415.6 L531.5,415.3 L531.8,415.1 L532.1,414.9 L532.4,414.7 L532.6,414.5 L532.7,414.4 M537.4,410.7 L537.7,410.5 L538.0,410.3 L538.2,410.0 L538.5,409.8 L538.8,409.6 L539.1,409.4 L539.2,409.3 M544.0,405.6 L544.2,405.4 L544.5,405.2 L544.8,405.0 L545.1,404.8 L545.3,404.6 L545.6,404.4 L545.7,404.3 M550.4,400.8 L550.7,400.6 L551.0,400.4 L551.3,400.2 L551.6,400.0 L551.8,399.8 L552.1,399.6 L552.2,399.5 M556.9,396.0 L557.2,395.8 L557.5,395.6 L557.8,395.4 L558.1,395.1 L558.3,394.9 L558.6,394.7 L558.7,394.6 M563.4,391.0 L563.7,390.8 L563.9,390.6 L564.2,390.4 L564.5,390.2 L564.8,390.0 L565.0,389.7 L565.2,389.7 M569.8,385.9 L570.1,385.7 L570.4,385.4 L570.7,385.2 L570.9,384.9 L571.2,384.7 L571.5,384.4 L571.5,384.4 M575.6,379.6 L575.9,379.2 L576.1,378.9 L576.4,378.5 L576.7,378.1 L577.0,377.7 L577.3,377.3 L577.4,377.2 M581.7,371.4 L582.0,371.0 L582.3,370.6 L582.5,370.2 L582.8,369.7 L583.1,369.3 L583.4,368.8 L583.4,368.7 M586.6,362.1 L586.9,361.6 L587.1,361.0 L587.4,360.5 L587.7,360.0 L588.0,359.5 L588.2,358.9 L588.2,358.9 M592.0,351.8 L592.2,351.4 L592.5,350.9 L592.7,350.4 L592.9,349.8 L593.1,349.3 L593.4,348.6 L593.4,348.5 M595.6,340.7 L595.8,340.2 L596.0,339.7 L596.1,339.1 L596.3,338.6 L596.5,338.1 L596.6,337.6 L596.8,337.1 L596.9,336.8 M599.7,328.7 L599.8,328.2 L600.0,327.7 L600.2,327.2 L600.3,326.7 L600.5,326.2 L600.7,325.7 L600.8,325.2 L601.0,324.8 M603.5,316.6 L603.7,316.1 L603.8,315.5 L604.0,315.0 L604.2,314.4 L604.3,313.8 L604.5,313.3 L604.7,312.7 L604.7,312.7 M607.1,304.3 L607.2,303.7 L607.4,303.1 L607.6,302.5 L607.7,301.8 L607.9,301.1 L608.1,300.5 L608.1,300.5 M609.8,291.9 L610.0,291.4 L610.1,290.8 L610.2,290.3 L610.3,289.8 L610.4,289.3 L610.5,288.8 L610.6,288.3 L610.7,287.9 L610.8,287.7 M613.2,279.1 L613.3,278.6 L613.4,278.1 L613.6,277.6 L613.7,277.1 L613.8,276.5 L613.9,276.0 L614.0,275.4 L614.1,275.1 M615.7,266.2 L615.8,265.7 L615.9,265.2 L616.1,264.7 L616.2,264.2 L616.3,263.8 L616.4,263.3 L616.5,262.9 L616.6,262.4 L616.7,262.2 M618.8,253.5 L618.9,253.0 L619.1,252.5 L619.2,252.0 L619.3,251.5 L619.4,251.0 L619.5,250.4 L619.6,249.9 L619.7,249.3 L619.7,249.3 M621.4,240.6 L621.6,240.0 L621.7,239.5 L621.8,238.9 L621.9,238.4 L622.0,237.9 L622.1,237.3 L622.2,236.8 L622.3,236.6 M624.1,227.7 L624.2,227.0 L624.3,226.4 L624.4,225.8 L624.6,225.1 L624.7,224.4 L624.8,223.7 L624.8,223.4 M626.2,214.6 L626.3,214.0 L626.4,213.3 L626.5,212.7 L626.7,212.0 L626.8,211.4 L626.9,210.8 L626.9,210.5 M628.5,201.6 L628.7,201.0 L628.8,200.4 L628.9,199.8 L629.0,199.2 L629.1,198.6 L629.2,197.9 L629.3,197.3 L629.3,197.3 M631.0,188.5 L631.1,187.9 L631.2,187.3 L631.3,186.7 L631.4,186.1 L631.5,185.5 L631.7,185.0 L631.8,184.4 L631.8,184.4 M633.5,175.4 L633.7,174.8 L633.8,174.2 L633.9,173.6 L634.0,173.0 L634.1,172.3 L634.2,171.6 L634.3,171.3 M635.6,162.2 L635.7,161.8 L635.7,161.5 L635.8,161.1 L635.8,160.7 L635.9,160.3 L635.9,160.0 L636.0,159.6 L636.0,159.3 L636.1,158.9 L636.2,158.6 L636.2,158.3 L636.2,158.3 M637.9,149.3 L638.0,148.7 L638.2,148.1 L638.3,147.4 L638.4,146.8 L638.5,146.1 L638.6,145.5 L638.7,145.1 M639.8,136.1 L639.9,135.6 L639.9,135.1 L640.0,134.7 L640.0,134.2 L640.1,133.7 L640.1,133.3 L640.2,132.8 L640.3,132.4 L640.3,131.9 L640.3,131.9 M641.6,122.7 L641.8,122.0 L641.9,121.3 L642.0,120.6 L642.1,119.9 L642.2,119.2 L642.3,118.5 L642.3,118.5 M643.6,109.6 L643.8,108.9 L643.9,108.1 L644.0,107.4 L644.1,106.7 L644.2,105.9 L644.3,105.2 L644.3,105.2 M645.8,96.5 L645.9,95.9 L646.0,95.3 L646.1,94.7 L646.3,94.1 L646.4,93.6 L646.5,93.0 L646.6,92.5 L646.6,92.3 M649.3,83.7 L649.5,83.1 L649.8,82.6 L650.0,82.1 L650.2,81.5 L650.4,81.0 L650.6,80.5 L650.8,80.2 M654.3,72.5 L654.5,72.0 L654.7,71.4 L655.0,70.9 L655.2,70.4 L655.4,69.9 L655.6,69.5 L655.9,69.1 L655.9,69.1 M661.5,71.3 L661.6,71.7 L661.8,72.1 L662.0,72.5 L662.1,72.9 L662.3,73.4 L662.5,73.9 L662.6,74.4 L662.7,74.8 M664.7,82.5 L664.9,83.0 L665.0,83.6 L665.1,84.1 L665.2,84.7 L665.3,85.3 L665.4,85.9 L665.5,86.5 L665.6,86.8 M667.1,95.8 L667.1,96.1 L667.2,96.5 L667.2,96.9 L667.3,97.3 L667.3,97.6 L667.4,98.0 L667.5,98.4 L667.5,98.8 L667.6,99.2 L667.6,99.6 L667.7,100.0 L667.7,100.0 M668.8,109.0 L668.9,109.4 L669.0,109.9 L669.0,110.4 L669.1,110.8 L669.1,111.3 L669.2,111.8 L669.2,112.3 L669.3,112.8 L669.3,113.3 L669.3,113.3 M670.4,122.4 L670.5,122.9 L670.5,123.3 L670.6,123.7 L670.6,124.2 L670.7,124.6 L670.7,125.0 L670.8,125.4 L670.8,125.9 L670.9,126.3 L671.0,126.7 L671.0,126.7 M672.2,135.6 L672.3,136.3 L672.4,137.1 L672.5,137.8 L672.6,138.5 L672.7,139.3 L672.8,139.9 L672.8,139.9 M674.2,148.8 L674.3,149.2 L674.3,149.6 L674.4,150.0 L674.5,150.4 L674.5,150.9 L674.6,151.3 L674.6,151.8 L674.7,152.3 L674.7,152.8 L674.8,153.3 L674.8,153.3 M675.6,162.0 L675.7,162.5 L675.7,163.1 L675.8,163.6 L675.8,164.1 L675.9,164.6 L676.0,165.1 L676.0,165.6 L676.1,166.0 L676.1,166.4 L676.1,166.4 M677.6,175.3 L677.7,175.9 L677.8,176.5 L677.9,177.2 L678.0,177.8 L678.1,178.4 L678.2,179.1 L678.3,179.5 M679.6,188.4 L679.7,188.8 L679.7,189.2 L679.8,189.6 L679.8,190.0 L679.9,190.4 L679.9,190.8 L680.0,191.2 L680.1,191.6 L680.1,192.0 L680.2,192.4 L680.2,192.8 L680.2,192.8 M681.4,201.7 L681.5,202.2 L681.6,202.6 L681.6,203.0 L681.7,203.4 L681.7,203.8 L681.8,204.2 L681.8,204.7 L681.9,205.1 L681.9,205.5 L682.0,205.9 L682.1,206.3 L682.1,206.3 M683.4,215.0 L683.4,215.3 L683.5,215.7 L683.6,216.1 L683.6,216.4 L683.7,216.8 L683.7,217.2 L683.8,217.6 L683.8,218.0 L683.9,218.4 L683.9,218.8 L684.0,219.2 L684.0,219.2 M685.0,228.7 L685.1,229.2 L685.1,229.7 L685.2,230.2 L685.2,230.7 L685.3,231.3 L685.3,231.8 L685.4,232.3 L685.4,232.9 L685.4,232.9 M686.6,241.8 L686.7,242.4 L686.8,243.0 L686.9,243.5 L687.1,244.0 L687.2,244.6 L687.3,245.1 L687.4,245.6 L687.4,245.9 M688.9,254.9 L688.9,255.3 L689.0,255.7 L689.1,256.1 L689.1,256.5 L689.2,256.9 L689.2,257.3 L689.3,257.7 L689.3,258.1 L689.4,258.5 L689.4,258.9 L689.5,259.3 L689.5,259.3 M690.8,268.0 L690.9,268.8 L691.0,269.5 L691.1,270.2 L691.2,270.9 L691.3,271.7 L691.4,272.4 L691.4,272.4 M692.9,281.4 L693.0,282.0 L693.1,282.7 L693.2,283.4 L693.3,284.1 L693.4,284.7 L693.5,285.4 L693.5,285.4 M695.0,294.5 L695.2,295.1 L695.3,295.8 L695.4,296.4 L695.5,297.1 L695.6,297.7 L695.7,298.3 L695.8,298.6 M697.4,307.4 L697.5,308.0 L697.7,308.6 L697.8,309.1 L697.9,309.7 L698.0,310.3 L698.1,310.8 L698.2,311.4 L698.3,311.7 M699.9,320.4 L700.0,321.0 L700.2,321.7 L700.3,322.3 L700.4,322.9 L700.5,323.5 L700.6,324.2 L700.7,324.8 L700.7,324.8 M702.3,333.4 L702.5,334.2 L702.7,334.9 L702.8,335.6 L703.0,336.3 L703.2,337.0 L703.3,337.7 L703.3,337.7 M706.0,346.1 L706.2,346.7 L706.4,347.2 L706.6,347.8 L706.9,348.3 L707.1,348.9 L707.3,349.4 L707.4,349.7 M710.7,357.5 L710.9,358.1 L711.1,358.7 L711.4,359.3 L711.6,360.0 L711.8,360.6 L712.0,361.2 L712.0,361.2 M714.8,369.1 L715.0,369.7 L715.3,370.3 L715.5,370.9 L715.7,371.4 L715.9,371.9 L716.1,372.4 L716.3,372.7 M720.1,380.2 L720.4,380.7 L720.7,381.1 L721.0,381.6 L721.2,382.1 L721.5,382.6 L721.8,383.1 L721.9,383.2 M725.7,389.8 L726.0,390.3 L726.3,390.7 L726.6,391.1 L726.9,391.6 L727.1,392.0 L727.4,392.4 L727.6,392.7 M732.0,398.8 L732.2,399.2 L732.5,399.6 L732.8,399.9 L733.1,400.3 L733.3,400.6 L733.6,401.0 L733.8,401.2 M738.5,406.5 L738.8,406.8 L739.1,407.1 L739.3,407.4 L739.6,407.6 L739.9,407.9 L740.2,408.2 L740.4,408.4 M745.3,412.7 L745.6,412.9 L745.8,413.1 L746.1,413.4 L746.4,413.6 L746.7,413.8 L746.9,414.1 L747.1,414.2 M751.7,418.2 L752.0,418.4 L752.3,418.7 L752.6,418.9 L752.8,419.1 L753.1,419.3 L753.4,419.5 L753.6,419.7 M758.7,423.0 L758.9,423.2 L759.2,423.3 L759.5,423.5 L759.8,423.6 L760.0,423.8 L760.3,423.9 L760.4,423.9 M765.3,426.2 L765.5,426.3 L765.8,426.4 L766.0,426.5 L766.2,426.6 L766.4,426.7 L766.7,426.8 L766.9,426.9 L766.9,426.9 M771.8,428.9 L772.0,429.0 L772.3,429.1 L772.5,429.2 L772.7,429.3 L772.9,429.4 L773.1,429.5 L773.4,429.6 L773.4,429.6 M778.3,431.5 L778.5,431.7 L778.8,431.8 L779.1,431.9 L779.4,432.0 L779.6,432.1 L779.9,432.3 L779.9,432.3 M784.8,434.2 L785.0,434.3 L785.3,434.4 L785.6,434.5 L785.9,434.6 L786.1,434.6 L786.4,434.7 L786.4,434.7 M791.4,436.0 L791.6,436.1 L791.8,436.1 L792.0,436.2 L792.2,436.3 L792.5,436.3 L792.7,436.4 L792.9,436.4 L793.0,436.4 M797.9,437.7 L798.1,437.7 L798.3,437.8 L798.5,437.8 L798.7,437.9 L799.0,438.0 L799.2,438.0 L799.4,438.1 L799.5,438.1 M804.4,439.2 L804.6,439.3 L804.8,439.3 L805.1,439.3 L805.3,439.4 L805.5,439.4 L805.7,439.4 L806.0,439.5 L806.0,439.5 M811.0,440.1 L811.2,440.1 L811.4,440.2 L811.6,440.2 L811.8,440.2 L812.1,440.2 L812.3,440.3 L812.5,440.3 L812.6,440.3 M817.6,440.8 L817.8,440.8 L818.0,440.8 L818.2,440.9 L818.4,440.9 L818.7,440.9 L818.9,440.9 L819.0,440.9" fill="none" stroke="#ff0000" stroke-width="4.0" stroke-linecap="round" stroke-linejoin="round"/>
</g>
<text xml:space="preserve" x="501.10" y="63.40" font-size="23.2" fill="#000" text-anchor="start" transform="translate(501.10 63.40) scale(1 1.03) translate(-501.10 -63.40)" textLength="21.2" lengthAdjust="spacingAndGlyphs">W</text>
<text xml:space="preserve" x="523.00" y="72.30" font-size="14" fill="#000" text-anchor="start" transform="translate(523.00 72.30) scale(1 1.03) translate(-523.00 -72.30)" >abs</text>
<text xml:space="preserve" x="549.50" y="63.40" font-size="23.2" fill="#000" text-anchor="start" transform="translate(549.50 63.40) scale(1 1.03) translate(-549.50 -63.40)" letter-spacing="0.55">(cm</text>
<text xml:space="preserve" x="590.90" y="53.10" font-size="14" fill="#000" text-anchor="start" transform="translate(590.90 53.10) scale(1 1.03) translate(-590.90 -53.10)" >-2</text>
<text xml:space="preserve" x="608.80" y="63.40" font-size="23.2" fill="#000" text-anchor="start" transform="translate(608.80 63.40) scale(1 1.03) translate(-608.80 -63.40)" >s</text>
<text xml:space="preserve" x="620.90" y="53.10" font-size="14" fill="#000" text-anchor="start" transform="translate(620.90 53.10) scale(1 1.03) translate(-620.90 -53.10)" >-  </text>
<text xml:space="preserve" x="632.50" y="63.40" font-size="23.2" fill="#000" text-anchor="start" transform="translate(632.50 63.40) scale(1 1.03) translate(-632.50 -63.40)" >)</text>
<text xml:space="preserve" x="500.50" y="103.20" font-size="23.8" fill="#000" text-anchor="start" transform="translate(500.50 103.20) scale(1 1.03) translate(-500.50 -103.20)" >3.6 x   0<tspan font-size="14.5" dy="-10.60">20</tspan></text>
<text xml:space="preserve" x="500.50" y="135.70" font-size="23.8" fill="#808080" text-anchor="start" transform="translate(500.50 135.70) scale(1 1.03) translate(-500.50 -135.70)" >3.0 x   0<tspan font-size="14.5" dy="-10.60">2  </tspan></text>
<text xml:space="preserve" x="500.50" y="168.30" font-size="23.8" fill="#ff0000" text-anchor="start" transform="translate(500.50 168.30) scale(1 1.03) translate(-500.50 -168.30)" >3.6 x   0<tspan font-size="14.5" dy="-10.60">22</tspan></text>
<rect x="130.2" y="609.3" width="682.20" height="405.90" fill="none" stroke="#1a1a1a" stroke-width="1.0"/>
<line x1="130.20" y1="609.30" x2="130.20" y2="616.60" stroke="#1a1a1a" stroke-width="1.0" />
<line x1="130.20" y1="1015.20" x2="130.20" y2="1022.50" stroke="#1a1a1a" stroke-width="1.0" />
<line x1="141.34" y1="609.30" x2="141.34" y2="616.60" stroke="#1a1a1a" stroke-width="1.0" />
<line x1="141.34" y1="1015.20" x2="141.34" y2="1022.50" stroke="#1a1a1a" stroke-width="1.0" />
<line x1="151.06" y1="609.30" x2="151.06" y2="616.60" stroke="#1a1a1a" stroke-width="1.0" />
<line x1="151.06" y1="1015.20" x2="151.06" y2="1022.50" stroke="#1a1a1a" stroke-width="1.0" />
<line x1="159.63" y1="609.30" x2="159.63" y2="616.60" stroke="#1a1a1a" stroke-width="1.0" />
<line x1="159.63" y1="1015.20" x2="159.63" y2="1022.50" stroke="#1a1a1a" stroke-width="1.0" />
<line x1="167.30" y1="609.30" x2="167.30" y2="623.60" stroke="#1a1a1a" stroke-width="1.0" />
<line x1="167.30" y1="1015.20" x2="167.30" y2="1029.50" stroke="#1a1a1a" stroke-width="1.0" />
<line x1="217.76" y1="609.30" x2="217.76" y2="616.60" stroke="#1a1a1a" stroke-width="1.0" />
<line x1="217.76" y1="1015.20" x2="217.76" y2="1022.50" stroke="#1a1a1a" stroke-width="1.0" />
<line x1="247.28" y1="609.30" x2="247.28" y2="616.60" stroke="#1a1a1a" stroke-width="1.0" />
<line x1="247.28" y1="1015.20" x2="247.28" y2="1022.50" stroke="#1a1a1a" stroke-width="1.0" />
<line x1="268.22" y1="609.30" x2="268.22" y2="616.60" stroke="#1a1a1a" stroke-width="1.0" />
<line x1="268.22" y1="1015.20" x2="268.22" y2="1022.50" stroke="#1a1a1a" stroke-width="1.0" />
<line x1="284.46" y1="609.30" x2="284.46" y2="616.60" stroke="#1a1a1a" stroke-width="1.0" />
<line x1="284.46" y1="1015.20" x2="284.46" y2="1022.50" stroke="#1a1a1a" stroke-width="1.0" />
<line x1="297.73" y1="609.30" x2="297.73" y2="616.60" stroke="#1a1a1a" stroke-width="1.0" />
<line x1="297.73" y1="1015.20" x2="297.73" y2="1022.50" stroke="#1a1a1a" stroke-width="1.0" />
<line x1="308.96" y1="609.30" x2="308.96" y2="616.60" stroke="#1a1a1a" stroke-width="1.0" />
<line x1="308.96" y1="1015.20" x2="308.96" y2="1022.50" stroke="#1a1a1a" stroke-width="1.0" />
<line x1="318.68" y1="609.30" x2="318.68" y2="616.60" stroke="#1a1a1a" stroke-width="1.0" />
<line x1="318.68" y1="1015.20" x2="318.68" y2="1022.50" stroke="#1a1a1a" stroke-width="1.0" />
<line x1="327.25" y1="609.30" x2="327.25" y2="616.60" stroke="#1a1a1a" stroke-width="1.0" />
<line x1="327.25" y1="1015.20" x2="327.25" y2="1022.50" stroke="#1a1a1a" stroke-width="1.0" />
<line x1="334.92" y1="609.30" x2="334.92" y2="623.60" stroke="#1a1a1a" stroke-width="1.0" />
<line x1="334.92" y1="1015.20" x2="334.92" y2="1029.50" stroke="#1a1a1a" stroke-width="1.0" />
<line x1="385.38" y1="609.30" x2="385.38" y2="616.60" stroke="#1a1a1a" stroke-width="1.0" />
<line x1="385.38" y1="1015.20" x2="385.38" y2="1022.50" stroke="#1a1a1a" stroke-width="1.0" />
<line x1="414.90" y1="609.30" x2="414.90" y2="616.60" stroke="#1a1a1a" stroke-width="1.0" />
<line x1="414.90" y1="1015.20" x2="414.90" y2="1022.50" stroke="#1a1a1a" stroke-width="1.0" />
<line x1="435.84" y1="609.30" x2="435.84" y2="616.60" stroke="#1a1a1a" stroke-width="1.0" />
<line x1="435.84" y1="1015.20" x2="435.84" y2="1022.50" stroke="#1a1a1a" stroke-width="1.0" />
<line x1="452.08" y1="609.30" x2="452.08" y2="616.60" stroke="#1a1a1a" stroke-width="1.0" />
<line x1="452.08" y1="1015.20" x2="452.08" y2="1022.50" stroke="#1a1a1a" stroke-width="1.0" />
<line x1="465.35" y1="609.30" x2="465.35" y2="616.60" stroke="#1a1a1a" stroke-width="1.0" />
<line x1="465.35" y1="1015.20" x2="465.35" y2="1022.50" stroke="#1a1a1a" stroke-width="1.0" />
<line x1="476.58" y1="609.30" x2="476.58" y2="616.60" stroke="#1a1a1a" stroke-width="1.0" />
<line x1="476.58" y1="1015.20" x2="476.58" y2="1022.50" stroke="#1a1a1a" stroke-width="1.0" />
<line x1="486.30" y1="609.30" x2="486.30" y2="616.60" stroke="#1a1a1a" stroke-width="1.0" />
<line x1="486.30" y1="1015.20" x2="486.30" y2="1022.50" stroke="#1a1a1a" stroke-width="1.0" />
<line x1="494.87" y1="609.30" x2="494.87" y2="616.60" stroke="#1a1a1a" stroke-width="1.0" />
<line x1="494.87" y1="1015.20" x2="494.87" y2="1022.50" stroke="#1a1a1a" stroke-width="1.0" />
<line x1="502.54" y1="609.30" x2="502.54" y2="623.60" stroke="#1a1a1a" stroke-width="1.0" />
<line x1="502.54" y1="1015.20" x2="502.54" y2="1029.50" stroke="#1a1a1a" stroke-width="1.0" />
<line x1="553.00" y1="609.30" x2="553.00" y2="616.60" stroke="#1a1a1a" stroke-width="1.0" />
<line x1="553.00" y1="1015.20" x2="553.00" y2="1022.50" stroke="#1a1a1a" stroke-width="1.0" />
<line x1="582.52" y1="609.30" x2="582.52" y2="616.60" stroke="#1a1a1a" stroke-width="1.0" />
<line x1="582.52" y1="1015.20" x2="582.52" y2="1022.50" stroke="#1a1a1a" stroke-width="1.0" />
<line x1="603.46" y1="609.30" x2="603.46" y2="616.60" stroke="#1a1a1a" stroke-width="1.0" />
<line x1="603.46" y1="1015.20" x2="603.46" y2="1022.50" stroke="#1a1a1a" stroke-width="1.0" />
<line x1="619.70" y1="609.30" x2="619.70" y2="616.60" stroke="#1a1a1a" stroke-width="1.0" />
<line x1="619.70" y1="1015.20" x2="619.70" y2="1022.50" stroke="#1a1a1a" stroke-width="1.0" />
<line x1="632.97" y1="609.30" x2="632.97" y2="616.60" stroke="#1a1a1a" stroke-width="1.0" />
<line x1="632.97" y1="1015.20" x2="632.97" y2="1022.50" stroke="#1a1a1a" stroke-width="1.0" />
<line x1="644.20" y1="609.30" x2="644.20" y2="616.60" stroke="#1a1a1a" stroke-width="1.0" />
<line x1="644.20" y1="1015.20" x2="644.20" y2="1022.50" stroke="#1a1a1a" stroke-width="1.0" />
<line x1="653.92" y1="609.30" x2="653.92" y2="616.60" stroke="#1a1a1a" stroke-width="1.0" />
<line x1="653.92" y1="1015.20" x2="653.92" y2="1022.50" stroke="#1a1a1a" stroke-width="1.0" />
<line x1="662.49" y1="609.30" x2="662.49" y2="616.60" stroke="#1a1a1a" stroke-width="1.0" />
<line x1="662.49" y1="1015.20" x2="662.49" y2="1022.50" stroke="#1a1a1a" stroke-width="1.0" />
<line x1="670.16" y1="609.30" x2="670.16" y2="623.60" stroke="#1a1a1a" stroke-width="1.0" />
<line x1="670.16" y1="1015.20" x2="670.16" y2="1029.50" stroke="#1a1a1a" stroke-width="1.0" />
<line x1="720.62" y1="609.30" x2="720.62" y2="616.60" stroke="#1a1a1a" stroke-width="1.0" />
<line x1="720.62" y1="1015.20" x2="720.62" y2="1022.50" stroke="#1a1a1a" stroke-width="1.0" />
<line x1="750.14" y1="609.30" x2="750.14" y2="616.60" stroke="#1a1a1a" stroke-width="1.0" />
<line x1="750.14" y1="1015.20" x2="750.14" y2="1022.50" stroke="#1a1a1a" stroke-width="1.0" />
<line x1="771.08" y1="609.30" x2="771.08" y2="616.60" stroke="#1a1a1a" stroke-width="1.0" />
<line x1="771.08" y1="1015.20" x2="771.08" y2="1022.50" stroke="#1a1a1a" stroke-width="1.0" />
<line x1="787.32" y1="609.30" x2="787.32" y2="616.60" stroke="#1a1a1a" stroke-width="1.0" />
<line x1="787.32" y1="1015.20" x2="787.32" y2="1022.50" stroke="#1a1a1a" stroke-width="1.0" />
<line x1="800.59" y1="609.30" x2="800.59" y2="616.60" stroke="#1a1a1a" stroke-width="1.0" />
<line x1="800.59" y1="1015.20" x2="800.59" y2="1022.50" stroke="#1a1a1a" stroke-width="1.0" />
<line x1="811.82" y1="609.30" x2="811.82" y2="616.60" stroke="#1a1a1a" stroke-width="1.0" />
<line x1="811.82" y1="1015.20" x2="811.82" y2="1022.50" stroke="#1a1a1a" stroke-width="1.0" />
<line x1="122.90" y1="1015.20" x2="130.20" y2="1015.20" stroke="#1a1a1a" stroke-width="1.0" />
<line x1="805.10" y1="1015.20" x2="812.40" y2="1015.20" stroke="#1a1a1a" stroke-width="1.0" />
<line x1="122.90" y1="1009.55" x2="130.20" y2="1009.55" stroke="#1a1a1a" stroke-width="1.0" />
<line x1="805.10" y1="1009.55" x2="812.40" y2="1009.55" stroke="#1a1a1a" stroke-width="1.0" />
<line x1="115.60" y1="1004.35" x2="130.20" y2="1004.35" stroke="#1a1a1a" stroke-width="1.0" />
<line x1="797.80" y1="1004.35" x2="812.40" y2="1004.35" stroke="#1a1a1a" stroke-width="1.0" />
<line x1="122.90" y1="970.17" x2="130.20" y2="970.17" stroke="#1a1a1a" stroke-width="1.0" />
<line x1="805.10" y1="970.17" x2="812.40" y2="970.17" stroke="#1a1a1a" stroke-width="1.0" />
<line x1="122.90" y1="950.17" x2="130.20" y2="950.17" stroke="#1a1a1a" stroke-width="1.0" />
<line x1="805.10" y1="950.17" x2="812.40" y2="950.17" stroke="#1a1a1a" stroke-width="1.0" />
<line x1="122.90" y1="935.99" x2="130.20" y2="935.99" stroke="#1a1a1a" stroke-width="1.0" />
<line x1="805.10" y1="935.99" x2="812.40" y2="935.99" stroke="#1a1a1a" stroke-width="1.0" />
<line x1="122.90" y1="924.98" x2="130.20" y2="924.98" stroke="#1a1a1a" stroke-width="1.0" />
<line x1="805.10" y1="924.98" x2="812.40" y2="924.98" stroke="#1a1a1a" stroke-width="1.0" />
<line x1="122.90" y1="915.99" x2="130.20" y2="915.99" stroke="#1a1a1a" stroke-width="1.0" />
<line x1="805.10" y1="915.99" x2="812.40" y2="915.99" stroke="#1a1a1a" stroke-width="1.0" />
<line x1="122.90" y1="908.39" x2="130.20" y2="908.39" stroke="#1a1a1a" stroke-width="1.0" />
<line x1="805.10" y1="908.39" x2="812.40" y2="908.39" stroke="#1a1a1a" stroke-width="1.0" />
<line x1="122.90" y1="901.80" x2="130.20" y2="901.80" stroke="#1a1a1a" stroke-width="1.0" />
<line x1="805.10" y1="901.80" x2="812.40" y2="901.80" stroke="#1a1a1a" stroke-width="1.0" />
<line x1="122.90" y1="896.00" x2="130.20" y2="896.00" stroke="#1a1a1a" stroke-width="1.0" />
<line x1="805.10" y1="896.00" x2="812.40" y2="896.00" stroke="#1a1a1a" stroke-width="1.0" />
<line x1="115.60" y1="890.80" x2="130.20" y2="890.80" stroke="#1a1a1a" stroke-width="1.0" />
<line x1="797.80" y1="890.80" x2="812.40" y2="890.80" stroke="#1a1a1a" stroke-width="1.0" />
<line x1="122.90" y1="856.62" x2="130.20" y2="856.62" stroke="#1a1a1a" stroke-width="1.0" />
<line x1="805.10" y1="856.62" x2="812.40" y2="856.62" stroke="#1a1a1a" stroke-width="1.0" />
<line x1="122.90" y1="836.62" x2="130.20" y2="836.62" stroke="#1a1a1a" stroke-width="1.0" />
<line x1="805.10" y1="836.62" x2="812.40" y2="836.62" stroke="#1a1a1a" stroke-width="1.0" />
<line x1="122.90" y1="822.44" x2="130.20" y2="822.44" stroke="#1a1a1a" stroke-width="1.0" />
<line x1="805.10" y1="822.44" x2="812.40" y2="822.44" stroke="#1a1a1a" stroke-width="1.0" />
<line x1="122.90" y1="811.43" x2="130.20" y2="811.43" stroke="#1a1a1a" stroke-width="1.0" />
<line x1="805.10" y1="811.43" x2="812.40" y2="811.43" stroke="#1a1a1a" stroke-width="1.0" />
<line x1="122.90" y1="802.44" x2="130.20" y2="802.44" stroke="#1a1a1a" stroke-width="1.0" />
<line x1="805.10" y1="802.44" x2="812.40" y2="802.44" stroke="#1a1a1a" stroke-width="1.0" />
<line x1="122.90" y1="794.84" x2="130.20" y2="794.84" stroke="#1a1a1a" stroke-width="1.0" />
<line x1="805.10" y1="794.84" x2="812.40" y2="794.84" stroke="#1a1a1a" stroke-width="1.0" />
<line x1="122.90" y1="788.25" x2="130.20" y2="788.25" stroke="#1a1a1a" stroke-width="1.0" />
<line x1="805.10" y1="788.25" x2="812.40" y2="788.25" stroke="#1a1a1a" stroke-width="1.0" />
<line x1="122.90" y1="782.45" x2="130.20" y2="782.45" stroke="#1a1a1a" stroke-width="1.0" />
<line x1="805.10" y1="782.45" x2="812.40" y2="782.45" stroke="#1a1a1a" stroke-width="1.0" />
<line x1="115.60" y1="777.25" x2="130.20" y2="777.25" stroke="#1a1a1a" stroke-width="1.0" />
<line x1="797.80" y1="777.25" x2="812.40" y2="777.25" stroke="#1a1a1a" stroke-width="1.0" />
<line x1="122.90" y1="743.07" x2="130.20" y2="743.07" stroke="#1a1a1a" stroke-width="1.0" />
<line x1="805.10" y1="743.07" x2="812.40" y2="743.07" stroke="#1a1a1a" stroke-width="1.0" />
<line x1="122.90" y1="723.07" x2="130.20" y2="723.07" stroke="#1a1a1a" stroke-width="1.0" />
<line x1="805.10" y1="723.07" x2="812.40" y2="723.07" stroke="#1a1a1a" stroke-width="1.0" />
<line x1="122.90" y1="708.89" x2="130.20" y2="708.89" stroke="#1a1a1a" stroke-width="1.0" />
<line x1="805.10" y1="708.89" x2="812.40" y2="708.89" stroke="#1a1a1a" stroke-width="1.0" />
<line x1="122.90" y1="697.88" x2="130.20" y2="697.88" stroke="#1a1a1a" stroke-width="1.0" />
<line x1="805.10" y1="697.88" x2="812.40" y2="697.88" stroke="#1a1a1a" stroke-width="1.0" />
<line x1="122.90" y1="688.89" x2="130.20" y2="688.89" stroke="#1a1a1a" stroke-width="1.0" />
<line x1="805.10" y1="688.89" x2="812.40" y2="688.89" stroke="#1a1a1a" stroke-width="1.0" />
<line x1="122.90" y1="681.29" x2="130.20" y2="681.29" stroke="#1a1a1a" stroke-width="1.0" />
<line x1="805.10" y1="681.29" x2="812.40" y2="681.29" stroke="#1a1a1a" stroke-width="1.0" />
<line x1="122.90" y1="674.70" x2="130.20" y2="674.70" stroke="#1a1a1a" stroke-width="1.0" />
<line x1="805.10" y1="674.70" x2="812.40" y2="674.70" stroke="#1a1a1a" stroke-width="1.0" />
<line x1="122.90" y1="668.90" x2="130.20" y2="668.90" stroke="#1a1a1a" stroke-width="1.0" />
<line x1="805.10" y1="668.90" x2="812.40" y2="668.90" stroke="#1a1a1a" stroke-width="1.0" />
<line x1="115.60" y1="663.70" x2="130.20" y2="663.70" stroke="#1a1a1a" stroke-width="1.0" />
<line x1="797.80" y1="663.70" x2="812.40" y2="663.70" stroke="#1a1a1a" stroke-width="1.0" />
<line x1="122.90" y1="629.52" x2="130.20" y2="629.52" stroke="#1a1a1a" stroke-width="1.0" />
<line x1="805.10" y1="629.52" x2="812.40" y2="629.52" stroke="#1a1a1a" stroke-width="1.0" />
<line x1="122.90" y1="609.52" x2="130.20" y2="609.52" stroke="#1a1a1a" stroke-width="1.0" />
<line x1="805.10" y1="609.52" x2="812.40" y2="609.52" stroke="#1a1a1a" stroke-width="1.0" />
<text xml:space="preserve" x="138.10" y="1070.80" font-size="34.3" fill="#000" text-anchor="start" transform="translate(138.10 1070.80) scale(1 1.03) translate(-138.10 -1070.80)" >  0<tspan font-size="20" dy="-16.00">  9</tspan></text>
<text xml:space="preserve" x="305.72" y="1070.80" font-size="34.3" fill="#000" text-anchor="start" transform="translate(305.72 1070.80) scale(1 1.03) translate(-305.72 -1070.80)" >  0<tspan font-size="20" dy="-16.00">20</tspan></text>
<text xml:space="preserve" x="473.34" y="1070.80" font-size="34.3" fill="#000" text-anchor="start" transform="translate(473.34 1070.80) scale(1 1.03) translate(-473.34 -1070.80)" >  0<tspan font-size="20" dy="-16.00">2  </tspan></text>
<text xml:space="preserve" x="640.96" y="1070.80" font-size="34.3" fill="#000" text-anchor="start" transform="translate(640.96 1070.80) scale(1 1.03) translate(-640.96 -1070.80)" >  0<tspan font-size="20" dy="-16.00">22</tspan></text>
<text xml:space="preserve" x="56.73" y="676.30" font-size="34.3" fill="#000" text-anchor="start" transform="translate(56.73 676.30) scale(1 1.03) translate(-56.73 -676.30)" >  0<tspan font-size="20" dy="-16.00">0</tspan></text>
<text xml:space="preserve" x="50.07" y="789.85" font-size="34.3" fill="#000" text-anchor="start" transform="translate(50.07 789.85) scale(1 1.03) translate(-50.07 -789.85)" >  0<tspan font-size="20" dy="-16.00">-  </tspan></text>
<text xml:space="preserve" x="50.07" y="903.40" font-size="34.3" fill="#000" text-anchor="start" transform="translate(50.07 903.40) scale(1 1.03) translate(-50.07 -903.40)" >  0<tspan font-size="20" dy="-16.00">-2</tspan></text>
<text xml:space="preserve" x="50.07" y="1016.95" font-size="34.3" fill="#000" text-anchor="start" transform="translate(50.07 1016.95) scale(1 1.03) translate(-50.07 -1016.95)" >  0<tspan font-size="20" dy="-16.00">-3</tspan></text>
<text xml:space="preserve" x="196.00" y="1120.60" font-size="34.6" fill="#000" text-anchor="start" transform="translate(196.00 1120.60) scale(1 1.03) translate(-196.00 -1120.60)" >Exciton formation rate W</text>
<text xml:space="preserve" x="572.20" y="1120.60" font-size="34.3" fill="#000" text-anchor="start" transform="translate(572.20 1120.60) scale(1 1.03) translate(-572.20 -1120.60)" ><tspan font-size="20" dy="11.80">abs</tspan><tspan dy="-11.80"> (cm</tspan><tspan font-size="20" dy="-15.50">-2</tspan><tspan dy="15.50"> s</tspan><tspan font-size="20" dy="-15.50">-  </tspan><tspan dy="15.50">)</tspan></text>
<text xml:space="preserve" x="34.70" y="836.60" font-size="34.64" fill="#000" text-anchor="middle" transform="rotate(-90 34.70 836.60) translate(34.70 836.60) scale(1 1.03) translate(-34.70 -836.60)" >Integrated PL intensity (arb. units)</text>
<text xml:space="preserve" x="140.10" y="655.60" font-size="33.4" fill="#000" text-anchor="start" transform="translate(140.10 655.60) scale(1 1.03) translate(-140.10 -655.60)" >(c)</text>
<path d="M180.1,956.5 L187.5,951.8 L194.9,947.0 L202.3,942.2 L209.6,937.3 L217.0,932.5 L224.4,927.6 L231.8,922.8 L239.2,917.9 L246.6,913.1 L254.0,908.2 L261.4,903.4 L268.7,898.6 L276.1,893.8 L283.5,889.1 L290.9,884.4 L298.3,879.7 L305.7,875.0 L313.1,870.4 L320.5,865.8 L327.8,861.2 L335.2,856.7 L342.6,852.2 L350.0,847.8 L357.4,843.4 L364.8,839.1 L372.2,834.8 L379.6,830.5 L386.9,826.3 L394.3,822.2 L401.7,818.1 L409.1,814.0 L416.5,810.0 L423.9,806.0 L431.3,802.1 L438.7,798.2 L446.0,794.3 L453.4,790.5 L460.8,786.8 L468.2,783.1 L475.6,779.4 L483.0,775.8 L490.4,772.2 L497.8,768.6 L505.1,765.1 L512.5,761.6 L519.9,758.2 L527.3,754.8 L534.7,751.4 L542.1,748.1 L549.5,744.8 L556.9,741.5 L564.2,738.2 L571.6,735.0 L579.0,731.9 L586.4,728.7 L593.8,725.6 L601.2,722.5 L608.6,719.5 L616.0,716.4 L623.3,713.4 L630.7,710.5 L638.1,707.5 L645.5,704.6 L652.9,701.8 L660.3,698.9 L667.7,696.1 L675.1,693.3 L682.4,690.6 L689.8,687.9 L697.2,685.3 L704.6,682.7 L712.0,680.1 L719.4,677.6 L726.8,675.1 L734.2,672.7 L741.5,670.3 L748.9,668.0 L756.3,665.8 L763.7,663.6" fill="none" stroke="#ff0000" stroke-width="2.5" stroke-linejoin="round" stroke-linecap="butt" />
<defs><radialGradient id="sph" cx="0.357" cy="0.366" r="0.30" fx="0.357" fy="0.366">
<stop offset="0" stop-color="#ffffff"/><stop offset="0.18" stop-color="#f4f4f4"/><stop offset="0.45" stop-color="#a0a0a0"/><stop offset="0.75" stop-color="#383838"/><stop offset="1" stop-color="#000000"/></radialGradient></defs>
<circle cx="180.4" cy="967.4" r="8.15" fill="url(#sph)"/>
<circle cx="247.2" cy="915.6" r="8.15" fill="url(#sph)"/>
<circle cx="297.7" cy="861.9" r="8.15" fill="url(#sph)"/>
<circle cx="348.2" cy="829.0" r="8.15" fill="url(#sph)"/>
<circle cx="398.6" cy="830.4" r="8.15" fill="url(#sph)"/>
<circle cx="428.2" cy="817.5" r="8.15" fill="url(#sph)"/>
<circle cx="449.2" cy="799.4" r="8.15" fill="url(#sph)"/>
<circle cx="465.5" cy="789.0" r="8.15" fill="url(#sph)"/>
<circle cx="478.5" cy="782.1" r="8.15" fill="url(#sph)"/>
<circle cx="489.8" cy="776.8" r="8.15" fill="url(#sph)"/>
<circle cx="499.6" cy="772.8" r="8.15" fill="url(#sph)"/>
<circle cx="508.0" cy="767.5" r="8.15" fill="url(#sph)"/>
<circle cx="515.9" cy="761.1" r="8.15" fill="url(#sph)"/>
<circle cx="545.6" cy="746.8" r="8.15" fill="url(#sph)"/>
<circle cx="582.7" cy="727.0" r="8.15" fill="url(#sph)"/>
<circle cx="633.1" cy="707.4" r="8.15" fill="url(#sph)"/>
<circle cx="661.8" cy="702.6" r="8.15" fill="url(#sph)"/>
<circle cx="683.6" cy="686.9" r="8.15" fill="url(#sph)"/>
<circle cx="713.0" cy="678.2" r="8.15" fill="url(#sph)"/>
<circle cx="733.2" cy="670.7" r="8.15" fill="url(#sph)"/>
<circle cx="763.9" cy="663.6" r="8.15" fill="url(#sph)"/>
<path transform="translate(88.40 506.80) scale(1 1.03) translate(-88.40 -506.80) translate(64.57 506.80) scale(0.01675 -0.01675)" d="M515 0V1063Q350 1050 197 1005V1151Q430 1230 560 1409H696V0Z" fill="rgb(0, 0, 0)"/>
<path transform="translate(159.15 506.80) scale(1 1.03) translate(-159.15 -506.80) translate(135.32 506.80) scale(0.01675 -0.01675)" d="M515 0V1063Q350 1050 197 1005V1151Q430 1230 560 1409H696V0Z" fill="rgb(0, 0, 0)"/>
<path transform="translate(159.15 506.80) scale(1 1.03) translate(-159.15 -506.80) translate(163.91 506.80) scale(0.01675 -0.01675)" d="M515 0V1063Q350 1050 197 1005V1151Q430 1230 560 1409H696V0Z" fill="rgb(0, 0, 0)"/>
<path transform="translate(229.90 506.80) scale(1 1.03) translate(-229.90 -506.80) translate(206.07 506.80) scale(0.01675 -0.01675)" d="M515 0V1063Q350 1050 197 1005V1151Q430 1230 560 1409H696V0Z" fill="rgb(0, 0, 0)"/>
<path transform="translate(300.65 506.80) scale(1 1.03) translate(-300.65 -506.80) translate(276.82 506.80) scale(0.01675 -0.01675)" d="M515 0V1063Q350 1050 197 1005V1151Q430 1230 560 1409H696V0Z" fill="rgb(0, 0, 0)"/>
<path transform="translate(232.10 91.90) scale(1 1.03) translate(-232.10 -91.90) translate(290.79 91.90) scale(0.01172 -0.01172)" d="M515 0V1063Q350 1050 197 1005V1151Q430 1230 560 1409H696V0Z" fill="rgb(255, 0, 0)"/>
<path transform="translate(232.10 158.90) scale(1 1.03) translate(-232.10 -158.90) translate(290.79 158.90) scale(0.01172 -0.01172)" d="M515 0V1063Q350 1050 197 1005V1151Q430 1230 560 1409H696V0Z" fill="rgb(153, 0, 0)"/>
<path transform="translate(232.10 228.60) scale(1 1.03) translate(-232.10 -228.60) translate(290.79 228.60) scale(0.01172 -0.01172)" d="M515 0V1063Q350 1050 197 1005V1151Q430 1230 560 1409H696V0Z" fill="rgb(115, 0, 0)"/>
<path transform="translate(232.10 228.60) scale(1 1.03) translate(-232.10 -228.60) translate(325.82 217.00) scale(0.00732 -0.00732)" d="M515 0V1063Q350 1050 197 1005V1151Q430 1230 560 1409H696V0Z" fill="rgb(115, 0, 0)"/>
<path transform="translate(232.10 298.40) scale(1 1.03) translate(-232.10 -298.40) translate(232.10 298.40) scale(0.01172 -0.01172)" d="M515 0V1063Q350 1050 197 1005V1151Q430 1230 560 1409H696V0Z" fill="rgb(90, 0, 0)"/>
<path transform="translate(232.10 298.40) scale(1 1.03) translate(-232.10 -298.40) translate(290.79 298.40) scale(0.01172 -0.01172)" d="M515 0V1063Q350 1050 197 1005V1151Q430 1230 560 1409H696V0Z" fill="rgb(90, 0, 0)"/>
<path transform="translate(232.10 298.40) scale(1 1.03) translate(-232.10 -298.40) translate(325.82 286.80) scale(0.00732 -0.00732)" d="M515 0V1063Q350 1050 197 1005V1151Q430 1230 560 1409H696V0Z" fill="rgb(90, 0, 0)"/>
<path transform="translate(232.10 366.10) scale(1 1.03) translate(-232.10 -366.10) translate(290.79 366.10) scale(0.01172 -0.01172)" d="M515 0V1063Q350 1050 197 1005V1151Q430 1230 560 1409H696V0Z" fill="rgb(64, 0, 0)"/>
<path transform="translate(232.10 429.90) scale(1 1.03) translate(-232.10 -429.90) translate(290.79 429.90) scale(0.01172 -0.01172)" d="M515 0V1063Q350 1050 197 1005V1151Q430 1230 560 1409H696V0Z" fill="rgb(0, 0, 0)"/>
<path transform="translate(232.10 429.90) scale(1 1.03) translate(-232.10 -429.90) translate(317.50 418.30) scale(0.00732 -0.00732)" d="M515 0V1063Q350 1050 197 1005V1151Q430 1230 560 1409H696V0Z" fill="rgb(0, 0, 0)"/>
<path transform="rotate(-90 393.00 431.20) translate(393.00 431.20) scale(1 1.03) translate(-393.00 -431.20) translate(576.17 414.20) scale(0.00977 -0.00977)" d="M515 0V1063Q350 1050 197 1005V1151Q430 1230 560 1409H696V0Z" fill="rgb(255, 0, 0)"/>
<path transform="translate(525.20 506.80) scale(1 1.03) translate(-525.20 -506.80) translate(501.37 506.80) scale(0.01675 -0.01675)" d="M515 0V1063Q350 1050 197 1005V1151Q430 1230 560 1409H696V0Z" fill="rgb(0, 0, 0)"/>
<path transform="translate(661.90 506.80) scale(1 1.03) translate(-661.90 -506.80) translate(638.07 506.80) scale(0.01675 -0.01675)" d="M515 0V1063Q350 1050 197 1005V1151Q430 1230 560 1409H696V0Z" fill="rgb(0, 0, 0)"/>
<path transform="translate(661.90 506.80) scale(1 1.03) translate(-661.90 -506.80) translate(666.66 506.80) scale(0.01675 -0.01675)" d="M515 0V1063Q350 1050 197 1005V1151Q430 1230 560 1409H696V0Z" fill="rgb(0, 0, 0)"/>
<path transform="translate(798.60 506.80) scale(1 1.03) translate(-798.60 -506.80) translate(774.77 506.80) scale(0.01675 -0.01675)" d="M515 0V1063Q350 1050 197 1005V1151Q430 1230 560 1409H696V0Z" fill="rgb(0, 0, 0)"/>
<path transform="translate(479.30 74.70) scale(1 1.03) translate(-479.30 -74.70) translate(460.23 74.70) scale(0.01675 -0.01675)" d="M515 0V1063Q350 1050 197 1005V1151Q430 1230 560 1409H696V0Z" fill="rgb(0, 0, 0)"/>
<path transform="translate(620.90 53.10) scale(1 1.03) translate(-620.90 -53.10) translate(625.55 53.10) scale(0.00684 -0.00684)" d="M515 0V1063Q350 1050 197 1005V1151Q430 1230 560 1409H696V0Z" fill="rgb(0, 0, 0)"/>
<path transform="translate(500.50 103.20) scale(1 1.03) translate(-500.50 -103.20) translate(558.65 103.20) scale(0.01162 -0.01162)" d="M515 0V1063Q350 1050 197 1005V1151Q430 1230 560 1409H696V0Z" fill="rgb(0, 0, 0)"/>
<path transform="translate(500.50 135.70) scale(1 1.03) translate(-500.50 -135.70) translate(558.65 135.70) scale(0.01162 -0.01162)" d="M515 0V1063Q350 1050 197 1005V1151Q430 1230 560 1409H696V0Z" fill="rgb(128, 128, 128)"/>
<path transform="translate(500.50 135.70) scale(1 1.03) translate(-500.50 -135.70) translate(593.18 125.10) scale(0.00708 -0.00708)" d="M515 0V1063Q350 1050 197 1005V1151Q430 1230 560 1409H696V0Z" fill="rgb(128, 128, 128)"/>
<path transform="translate(500.50 168.30) scale(1 1.03) translate(-500.50 -168.30) translate(558.65 168.30) scale(0.01162 -0.01162)" d="M515 0V1063Q350 1050 197 1005V1151Q430 1230 560 1409H696V0Z" fill="rgb(255, 0, 0)"/>
<path transform="translate(138.10 1070.80) scale(1 1.03) translate(-138.10 -1070.80) translate(138.10 1070.80) scale(0.01675 -0.01675)" d="M515 0V1063Q350 1050 197 1005V1151Q430 1230 560 1409H696V0Z" fill="rgb(0, 0, 0)"/>
<path transform="translate(138.10 1070.80) scale(1 1.03) translate(-138.10 -1070.80) translate(176.24 1054.80) scale(0.00977 -0.00977)" d="M515 0V1063Q350 1050 197 1005V1151Q430 1230 560 1409H696V0Z" fill="rgb(0, 0, 0)"/>
<path transform="translate(305.72 1070.80) scale(1 1.03) translate(-305.72 -1070.80) translate(305.72 1070.80) scale(0.01675 -0.01675)" d="M515 0V1063Q350 1050 197 1005V1151Q430 1230 560 1409H696V0Z" fill="rgb(0, 0, 0)"/>
<path transform="translate(473.34 1070.80) scale(1 1.03) translate(-473.34 -1070.80) translate(473.34 1070.80) scale(0.01675 -0.01675)" d="M515 0V1063Q350 1050 197 1005V1151Q430 1230 560 1409H696V0Z" fill="rgb(0, 0, 0)"/>
<path transform="translate(473.34 1070.80) scale(1 1.03) translate(-473.34 -1070.80) translate(522.60 1054.80) scale(0.00977 -0.00977)" d="M515 0V1063Q350 1050 197 1005V1151Q430 1230 560 1409H696V0Z" fill="rgb(0, 0, 0)"/>
<path transform="translate(640.96 1070.80) scale(1 1.03) translate(-640.96 -1070.80) translate(640.96 1070.80) scale(0.01675 -0.01675)" d="M515 0V1063Q350 1050 197 1005V1151Q430 1230 560 1409H696V0Z" fill="rgb(0, 0, 0)"/>
<path transform="translate(56.73 676.30) scale(1 1.03) translate(-56.73 -676.30) translate(56.73 676.30) scale(0.01675 -0.01675)" d="M515 0V1063Q350 1050 197 1005V1151Q430 1230 560 1409H696V0Z" fill="rgb(0, 0, 0)"/>
<path transform="translate(50.07 789.85) scale(1 1.03) translate(-50.07 -789.85) translate(50.07 789.85) scale(0.01675 -0.01675)" d="M515 0V1063Q350 1050 197 1005V1151Q430 1230 560 1409H696V0Z" fill="rgb(0, 0, 0)"/>
<path transform="translate(50.07 789.85) scale(1 1.03) translate(-50.07 -789.85) translate(94.86 773.85) scale(0.00977 -0.00977)" d="M515 0V1063Q350 1050 197 1005V1151Q430 1230 560 1409H696V0Z" fill="rgb(0, 0, 0)"/>
<path transform="translate(50.07 903.40) scale(1 1.03) translate(-50.07 -903.40) translate(50.07 903.40) scale(0.01675 -0.01675)" d="M515 0V1063Q350 1050 197 1005V1151Q430 1230 560 1409H696V0Z" fill="rgb(0, 0, 0)"/>
<path transform="translate(50.07 1016.95) scale(1 1.03) translate(-50.07 -1016.95) translate(50.07 1016.95) scale(0.01675 -0.01675)" d="M515 0V1063Q350 1050 197 1005V1151Q430 1230 560 1409H696V0Z" fill="rgb(0, 0, 0)"/>
<path transform="translate(572.20 1120.60) scale(1 1.03) translate(-572.20 -1120.60) translate(722.20 1105.10) scale(0.00977 -0.00977)" d="M515 0V1063Q350 1050 197 1005V1151Q430 1230 560 1409H696V0Z" fill="rgb(0, 0, 0)"/>
</svg>
</body></html>
